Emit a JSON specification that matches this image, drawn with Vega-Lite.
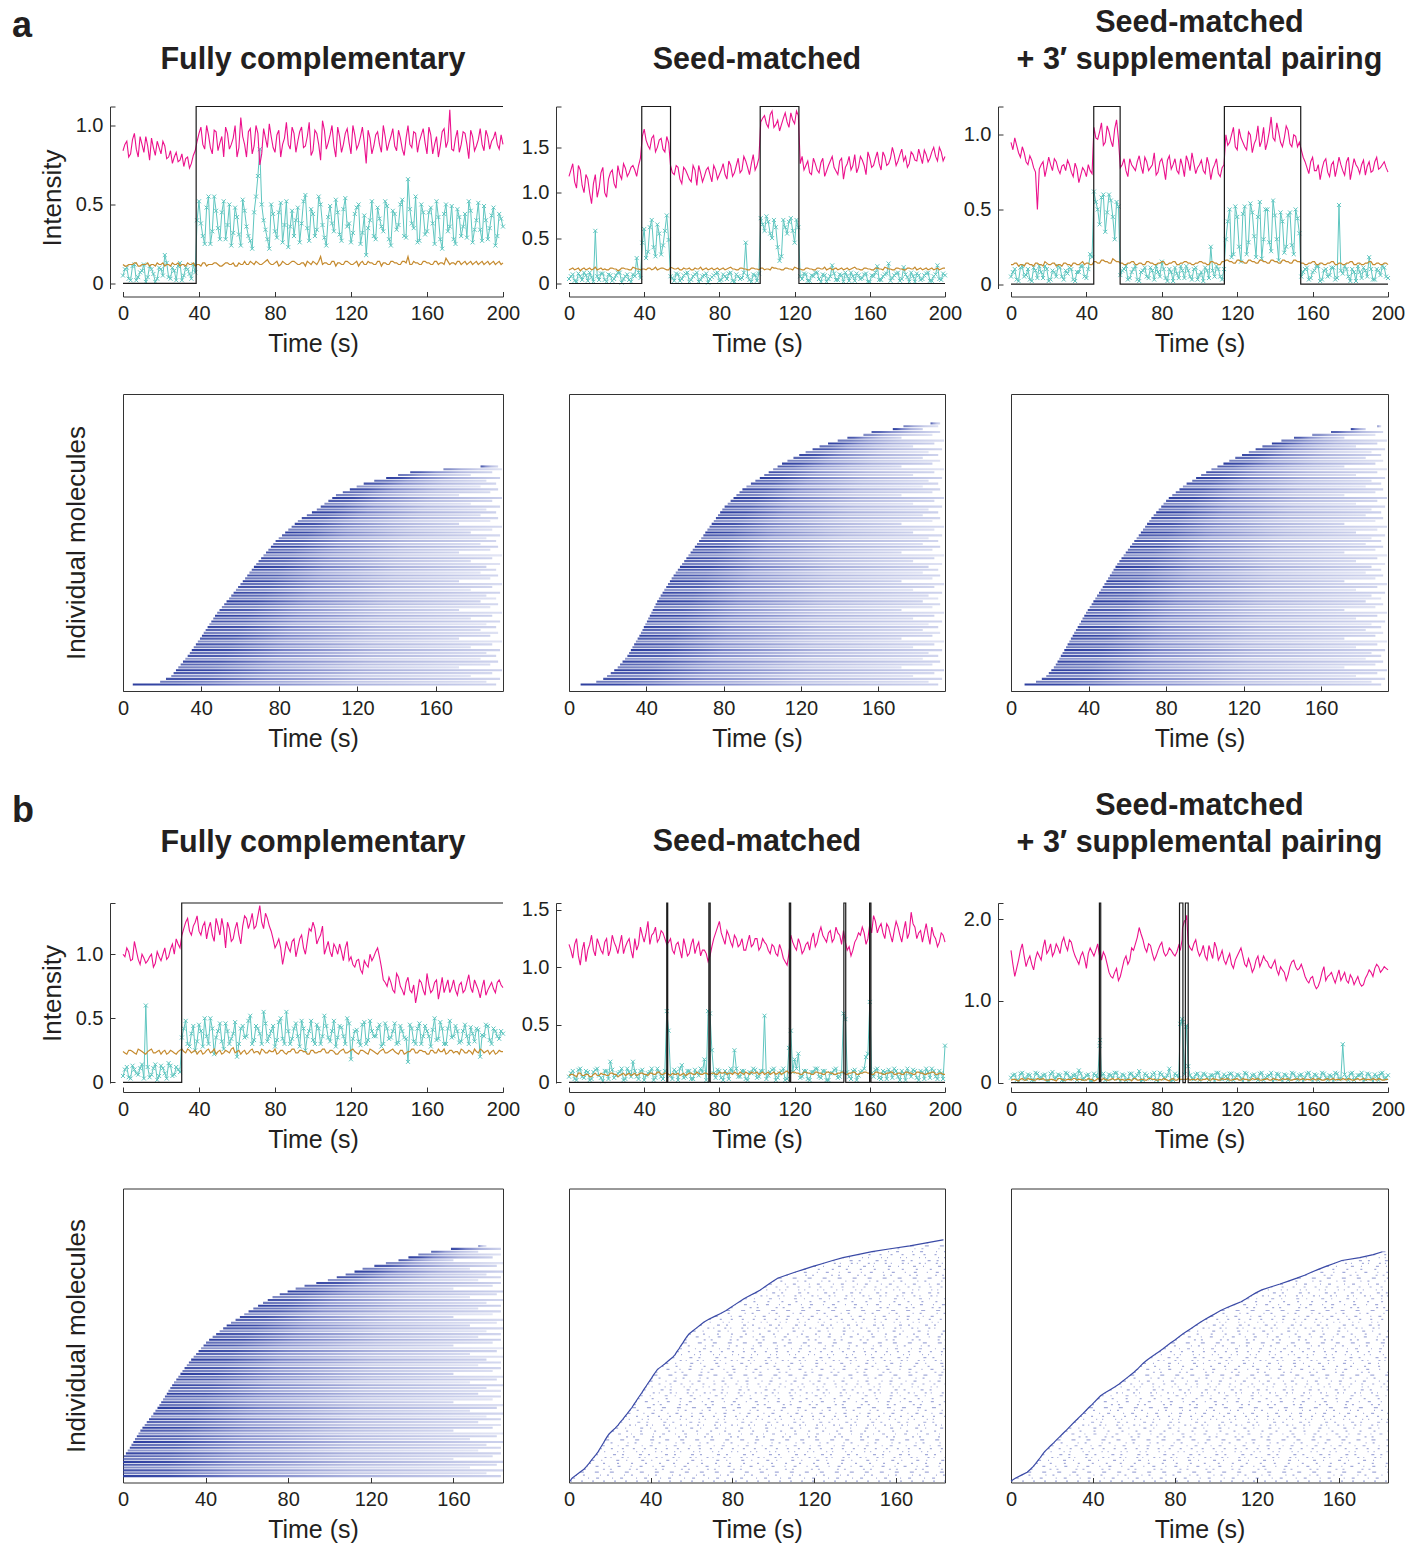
{
"$schema":"https://vega.github.io/schema/vega-lite/v6.json",
"padding":{"left":12,"top":0,"right":2,"bottom":2},
"columns":3,
"spacing":{"row":105.5,"column":66},
"bounds":"flush",
"align":"each",
"config":{
"font":"Liberation Sans",
"view":{"stroke":null},
"axis":{"grid":false,"labelFontSize":20,"titleFontSize":25,"titleFontWeight":"normal","labelColor":"#231f20","titleColor":"#231f20","domainColor":"#333","tickColor":"#333","tickSize":-5,"labelPadding":12,"labelFont":"Liberation Sans","titleFont":"Liberation Sans"},
"axisX":{"labelFlush":false,"titlePadding":8},
"axisY":{"titlePadding":10,"titleFontSize":26},
"title":{"font":"Liberation Sans","fontSize":30.5,"fontWeight":"bold","color":"#231f20","baseline":"bottom","frame":"group","anchor":"middle","lineHeight":37}
},
"datasets":{
"A1":[{"t":0,"m":0.84,"c":0.05,"o":0.12},{"t":2,"m":0.9,"c":0.1,"o":0.11},{"t":4,"m":0.82,"c":0.02,"o":0.12},{"t":6,"m":0.95,"c":0.12,"o":0.13},{"t":8,"m":0.8,"c":0.04,"o":0.11},{"t":10,"m":0.88,"c":0.08,"o":0.12},{"t":12,"m":0.93,"c":0.01,"o":0.12},{"t":14,"m":0.78,"c":0.11,"o":0.11},{"t":16,"m":0.86,"c":0.06,"o":0.12},{"t":18,"m":0.9,"c":0.03,"o":0.13},{"t":20,"m":0.82,"c":0.09,"o":0.12},{"t":22,"m":0.87,"c":0.18,"o":0.11},{"t":24,"m":0.8,"c":0.04,"o":0.12},{"t":26,"m":0.76,"c":0.1,"o":0.13},{"t":28,"m":0.83,"c":0.02,"o":0.12},{"t":30,"m":0.78,"c":0.13,"o":0.11},{"t":32,"m":0.74,"c":0.05,"o":0.12},{"t":34,"m":0.8,"c":0.09,"o":0.13},{"t":36,"m":0.76,"c":0.03,"o":0.12},{"t":38,"m":0.84,"c":0.07,"o":0.11},{"t":40,"m":0.95,"c":0.52,"o":0.12},{"t":42,"m":0.88,"c":0.3,"o":0.13},{"t":44,"m":1.0,"c":0.48,"o":0.11},{"t":46,"m":0.86,"c":0.25,"o":0.12},{"t":48,"m":0.97,"c":0.55,"o":0.13},{"t":50,"m":0.84,"c":0.35,"o":0.12},{"t":52,"m":0.93,"c":0.45,"o":0.11},{"t":54,"m":0.99,"c":0.28,"o":0.13},{"t":56,"m":0.85,"c":0.5,"o":0.12},{"t":58,"m":0.92,"c":0.32,"o":0.13},{"t":60,"m":0.8,"c":0.42,"o":0.11},{"t":62,"m":1.05,"c":0.24,"o":0.12},{"t":64,"m":0.88,"c":0.46,"o":0.14},{"t":66,"m":0.96,"c":0.3,"o":0.12},{"t":68,"m":0.82,"c":0.22,"o":0.13},{"t":70,"m":1.0,"c":0.55,"o":0.14},{"t":72,"m":0.75,"c":0.85,"o":0.12},{"t":74,"m":0.98,"c":0.4,"o":0.13},{"t":76,"m":0.86,"c":0.28,"o":0.15},{"t":78,"m":0.93,"c":0.5,"o":0.12},{"t":80,"m":0.83,"c":0.33,"o":0.13},{"t":82,"m":0.97,"c":0.45,"o":0.11},{"t":84,"m":0.88,"c":0.26,"o":0.14},{"t":86,"m":1.02,"c":0.52,"o":0.12},{"t":88,"m":0.85,"c":0.36,"o":0.13},{"t":90,"m":0.95,"c":0.3,"o":0.14},{"t":92,"m":0.9,"c":0.48,"o":0.12},{"t":94,"m":0.99,"c":0.38,"o":0.13},{"t":96,"m":0.87,"c":0.56,"o":0.11},{"t":98,"m":1.02,"c":0.27,"o":0.13},{"t":100,"m":0.84,"c":0.44,"o":0.14},{"t":102,"m":0.95,"c":0.34,"o":0.12},{"t":104,"m":0.78,"c":0.5,"o":0.17},{"t":106,"m":0.97,"c":0.29,"o":0.13},{"t":108,"m":0.89,"c":0.42,"o":0.12},{"t":110,"m":1.0,"c":0.38,"o":0.14},{"t":112,"m":0.8,"c":0.53,"o":0.11},{"t":114,"m":0.93,"c":0.31,"o":0.13},{"t":116,"m":0.88,"c":0.47,"o":0.12},{"t":118,"m":0.98,"c":0.36,"o":0.14},{"t":120,"m":0.82,"c":0.26,"o":0.12},{"t":122,"m":0.94,"c":0.44,"o":0.13},{"t":124,"m":0.88,"c":0.5,"o":0.11},{"t":126,"m":0.99,"c":0.32,"o":0.14},{"t":128,"m":0.76,"c":0.18,"o":0.12},{"t":130,"m":0.92,"c":0.4,"o":0.13},{"t":132,"m":0.87,"c":0.3,"o":0.12},{"t":134,"m":0.96,"c":0.48,"o":0.14},{"t":136,"m":0.83,"c":0.36,"o":0.11},{"t":138,"m":0.93,"c":0.52,"o":0.13},{"t":140,"m":0.89,"c":0.28,"o":0.12},{"t":142,"m":0.98,"c":0.46,"o":0.14},{"t":144,"m":0.84,"c":0.34,"o":0.13},{"t":146,"m":0.92,"c":0.5,"o":0.12},{"t":148,"m":0.81,"c":0.3,"o":0.14},{"t":150,"m":1.0,"c":0.66,"o":0.17},{"t":152,"m":0.86,"c":0.38,"o":0.12},{"t":154,"m":0.95,"c":0.55,"o":0.13},{"t":156,"m":0.9,"c":0.27,"o":0.12},{"t":158,"m":0.98,"c":0.45,"o":0.14},{"t":160,"m":0.82,"c":0.33,"o":0.13},{"t":162,"m":0.94,"c":0.48,"o":0.12},{"t":164,"m":0.88,"c":0.25,"o":0.14},{"t":166,"m":0.8,"c":0.42,"o":0.12},{"t":168,"m":0.96,"c":0.22,"o":0.13},{"t":170,"m":0.86,"c":0.5,"o":0.16},{"t":172,"m":1.1,"c":0.36,"o":0.12},{"t":174,"m":0.84,"c":0.28,"o":0.13},{"t":176,"m":0.97,"c":0.47,"o":0.14},{"t":178,"m":0.88,"c":0.3,"o":0.12},{"t":180,"m":0.95,"c":0.44,"o":0.14},{"t":182,"m":0.79,"c":0.52,"o":0.13},{"t":184,"m":0.93,"c":0.26,"o":0.12},{"t":186,"m":0.87,"c":0.4,"o":0.14},{"t":188,"m":0.98,"c":0.34,"o":0.13},{"t":190,"m":0.84,"c":0.49,"o":0.12},{"t":192,"m":0.93,"c":0.28,"o":0.14},{"t":194,"m":0.9,"c":0.43,"o":0.13},{"t":196,"m":0.96,"c":0.24,"o":0.12},{"t":198,"m":0.85,"c":0.44,"o":0.14},{"t":200,"m":0.88,"c":0.36,"o":0.13},
{"t":1,"m":0.88,"c":0.09,"o":0.11},{"t":3,"m":0.8,"c":0.03,"o":0.12},{"t":5,"m":0.91,"c":0.11,"o":0.12},{"t":7,"m":0.85,"c":0.02,"o":0.13},{"t":9,"m":0.93,"c":0.07,"o":0.11},{"t":11,"m":0.83,"c":0.12,"o":0.12},{"t":13,"m":0.87,"c":0.04,"o":0.13},{"t":15,"m":0.92,"c":0.09,"o":0.12},{"t":17,"m":0.81,"c":0.01,"o":0.11},{"t":19,"m":0.86,"c":0.1,"o":0.12},{"t":21,"m":0.9,"c":0.05,"o":0.13},{"t":23,"m":0.79,"c":0.13,"o":0.12},{"t":25,"m":0.84,"c":0.03,"o":0.11},{"t":27,"m":0.8,"c":0.08,"o":0.12},{"t":29,"m":0.77,"c":0.11,"o":0.13},{"t":31,"m":0.82,"c":0.02,"o":0.12},{"t":33,"m":0.79,"c":0.1,"o":0.11},{"t":35,"m":0.73,"c":0.06,"o":0.12},{"t":37,"m":0.81,"c":0.12,"o":0.13},{"t":39,"m":0.9,"c":0.4,"o":0.12},{"t":41,"m":0.99,"c":0.38,"o":0.11},{"t":43,"m":0.85,"c":0.25,"o":0.13},{"t":45,"m":0.94,"c":0.55,"o":0.12},{"t":47,"m":0.82,"c":0.33,"o":0.12},{"t":49,"m":0.96,"c":0.46,"o":0.13},{"t":51,"m":0.89,"c":0.28,"o":0.11},{"t":53,"m":0.8,"c":0.52,"o":0.12},{"t":55,"m":0.95,"c":0.37,"o":0.13},{"t":57,"m":0.88,"c":0.24,"o":0.12},{"t":59,"m":1.0,"c":0.48,"o":0.11},{"t":61,"m":0.86,"c":0.31,"o":0.13},{"t":63,"m":0.93,"c":0.53,"o":0.12},{"t":65,"m":0.8,"c":0.36,"o":0.12},{"t":67,"m":0.98,"c":0.27,"o":0.14},{"t":69,"m":0.87,"c":0.45,"o":0.12},{"t":71,"m":0.95,"c":0.68,"o":0.13},{"t":73,"m":0.82,"c":0.5,"o":0.12},{"t":75,"m":0.92,"c":0.34,"o":0.14},{"t":77,"m":1.01,"c":0.22,"o":0.13},{"t":79,"m":0.86,"c":0.44,"o":0.12},{"t":81,"m":0.94,"c":0.29,"o":0.14},{"t":83,"m":0.8,"c":0.51,"o":0.12},{"t":85,"m":0.92,"c":0.37,"o":0.13},{"t":87,"m":0.88,"c":0.23,"o":0.12},{"t":89,"m":0.99,"c":0.46,"o":0.14},{"t":91,"m":0.83,"c":0.4,"o":0.13},{"t":93,"m":0.96,"c":0.26,"o":0.12},{"t":95,"m":0.86,"c":0.52,"o":0.13},{"t":97,"m":0.93,"c":0.35,"o":0.14},{"t":99,"m":0.81,"c":0.47,"o":0.12},{"t":101,"m":0.97,"c":0.3,"o":0.13},{"t":103,"m":0.88,"c":0.55,"o":0.14},{"t":105,"m":1.03,"c":0.37,"o":0.12},{"t":107,"m":0.85,"c":0.24,"o":0.13},{"t":109,"m":0.94,"c":0.49,"o":0.12},{"t":111,"m":0.87,"c":0.33,"o":0.14},{"t":113,"m":0.99,"c":0.45,"o":0.13},{"t":115,"m":0.83,"c":0.27,"o":0.12},{"t":117,"m":0.95,"c":0.54,"o":0.14},{"t":119,"m":0.89,"c":0.38,"o":0.13},{"t":121,"m":1.0,"c":0.32,"o":0.12},{"t":123,"m":0.85,"c":0.48,"o":0.14},{"t":125,"m":0.93,"c":0.25,"o":0.13},{"t":127,"m":0.89,"c":0.43,"o":0.12},{"t":129,"m":0.97,"c":0.35,"o":0.14},{"t":131,"m":0.82,"c":0.52,"o":0.13},{"t":133,"m":0.94,"c":0.28,"o":0.12},{"t":135,"m":0.88,"c":0.41,"o":0.14},{"t":137,"m":1.0,"c":0.33,"o":0.13},{"t":139,"m":0.84,"c":0.49,"o":0.12},{"t":141,"m":0.93,"c":0.24,"o":0.14},{"t":143,"m":0.87,"c":0.44,"o":0.13},{"t":145,"m":0.97,"c":0.37,"o":0.12},{"t":147,"m":0.85,"c":0.53,"o":0.14},{"t":149,"m":0.92,"c":0.29,"o":0.13},{"t":151,"m":0.88,"c":0.47,"o":0.12},{"t":153,"m":0.96,"c":0.35,"o":0.14},{"t":155,"m":0.83,"c":0.26,"o":0.13},{"t":157,"m":0.94,"c":0.5,"o":0.12},{"t":159,"m":0.89,"c":0.31,"o":0.14},{"t":161,"m":0.99,"c":0.45,"o":0.13},{"t":163,"m":0.82,"c":0.38,"o":0.12},{"t":165,"m":0.93,"c":0.52,"o":0.14},{"t":167,"m":0.87,"c":0.28,"o":0.13},{"t":169,"m":0.98,"c":0.44,"o":0.12},{"t":171,"m":0.9,"c":0.33,"o":0.14},{"t":173,"m":0.85,"c":0.49,"o":0.13},{"t":175,"m":0.92,"c":0.25,"o":0.12},{"t":177,"m":0.83,"c":0.42,"o":0.14},{"t":179,"m":0.96,"c":0.36,"o":0.13},{"t":181,"m":0.88,"c":0.29,"o":0.12},{"t":183,"m":0.97,"c":0.46,"o":0.14},{"t":185,"m":0.84,"c":0.34,"o":0.13},{"t":187,"m":0.91,"c":0.51,"o":0.12},{"t":189,"m":0.88,"c":0.27,"o":0.14},{"t":191,"m":0.97,"c":0.4,"o":0.13},{"t":193,"m":0.85,"c":0.35,"o":0.12},{"t":195,"m":0.92,"c":0.48,"o":0.14},{"t":197,"m":0.88,"c":0.3,"o":0.13},{"t":199,"m":0.94,"c":0.41,"o":0.12}],
"A2":[{"t":0,"m":1.18,"c":0.05,"o":0.15},{"t":2,"m":1.32,"c":0.1,"o":0.17},{"t":4,"m":1.05,"c":0.02,"o":0.16},{"t":6,"m":1.25,"c":0.08,"o":0.14},{"t":8,"m":1.0,"c":0.12,"o":0.17},{"t":10,"m":1.15,"c":0.03,"o":0.16},{"t":12,"m":0.88,"c":0.07,"o":0.15},{"t":14,"m":1.2,"c":0.58,"o":0.18},{"t":16,"m":1.05,"c":0.04,"o":0.16},{"t":18,"m":1.28,"c":0.11,"o":0.15},{"t":20,"m":0.95,"c":0.02,"o":0.15},{"t":22,"m":1.22,"c":0.09,"o":0.17},{"t":24,"m":1.1,"c":0.05,"o":0.16},{"t":26,"m":1.3,"c":0.12,"o":0.14},{"t":28,"m":1.15,"c":0.01,"o":0.17},{"t":30,"m":1.27,"c":0.08,"o":0.16},{"t":32,"m":1.22,"c":0.04,"o":0.15},{"t":34,"m":1.3,"c":0.1,"o":0.18},{"t":36,"m":1.18,"c":0.28,"o":0.16},{"t":38,"m":1.38,"c":0.06,"o":0.15},{"t":40,"m":1.7,"c":0.6,"o":0.16},{"t":42,"m":1.52,"c":0.35,"o":0.17},{"t":44,"m":1.6,"c":0.7,"o":0.15},{"t":46,"m":1.45,"c":0.3,"o":0.18},{"t":48,"m":1.58,"c":0.55,"o":0.16},{"t":50,"m":1.48,"c":0.42,"o":0.17},{"t":52,"m":1.62,"c":0.75,"o":0.15},{"t":54,"m":1.3,"c":0.08,"o":0.18},{"t":56,"m":1.2,"c":0.03,"o":0.16},{"t":58,"m":1.28,"c":0.1,"o":0.17},{"t":60,"m":1.1,"c":0.05,"o":0.15},{"t":62,"m":1.25,"c":0.11,"o":0.16},{"t":64,"m":1.15,"c":0.02,"o":0.17},{"t":66,"m":1.3,"c":0.08,"o":0.15},{"t":68,"m":1.08,"c":0.12,"o":0.16},{"t":70,"m":1.22,"c":0.04,"o":0.18},{"t":72,"m":1.18,"c":0.09,"o":0.16},{"t":74,"m":1.28,"c":0.01,"o":0.15},{"t":76,"m":1.12,"c":0.07,"o":0.17},{"t":78,"m":1.25,"c":0.11,"o":0.16},{"t":80,"m":1.2,"c":0.03,"o":0.15},{"t":82,"m":1.32,"c":0.1,"o":0.17},{"t":84,"m":1.15,"c":0.05,"o":0.16},{"t":86,"m":1.3,"c":0.12,"o":0.18},{"t":88,"m":1.22,"c":0.02,"o":0.16},{"t":90,"m":1.38,"c":0.08,"o":0.15},{"t":92,"m":1.25,"c":0.06,"o":0.17},{"t":94,"m":1.35,"c":0.45,"o":0.16},{"t":96,"m":1.2,"c":0.04,"o":0.15},{"t":98,"m":1.42,"c":0.1,"o":0.17},{"t":100,"m":1.3,"c":0.03,"o":0.16},{"t":102,"m":1.78,"c":0.72,"o":0.17},{"t":104,"m":1.85,"c":0.58,"o":0.15},{"t":106,"m":1.72,"c":0.68,"o":0.16},{"t":108,"m":1.9,"c":0.5,"o":0.18},{"t":110,"m":1.75,"c":0.62,"o":0.17},{"t":112,"m":1.68,"c":0.25,"o":0.16},{"t":114,"m":1.82,"c":0.7,"o":0.15},{"t":116,"m":1.78,"c":0.55,"o":0.17},{"t":118,"m":1.88,"c":0.72,"o":0.16},{"t":120,"m":1.76,"c":0.45,"o":0.18},{"t":122,"m":1.85,"c":0.62,"o":0.16},{"t":124,"m":1.4,"c":0.05,"o":0.15},{"t":126,"m":1.3,"c":0.1,"o":0.17},{"t":128,"m":1.22,"c":0.03,"o":0.16},{"t":130,"m":1.38,"c":0.08,"o":0.15},{"t":132,"m":1.25,"c":0.12,"o":0.17},{"t":134,"m":1.33,"c":0.02,"o":0.16},{"t":136,"m":1.18,"c":0.09,"o":0.18},{"t":138,"m":1.3,"c":0.05,"o":0.16},{"t":140,"m":1.4,"c":0.2,"o":0.15},{"t":142,"m":1.24,"c":0.04,"o":0.17},{"t":144,"m":1.35,"c":0.1,"o":0.16},{"t":146,"m":1.15,"c":0.02,"o":0.15},{"t":148,"m":1.32,"c":0.08,"o":0.17},{"t":150,"m":1.25,"c":0.12,"o":0.16},{"t":152,"m":1.42,"c":0.03,"o":0.18},{"t":154,"m":1.28,"c":0.09,"o":0.16},{"t":156,"m":1.36,"c":0.06,"o":0.15},{"t":158,"m":1.2,"c":0.11,"o":0.17},{"t":160,"m":1.38,"c":0.02,"o":0.16},{"t":162,"m":1.3,"c":0.08,"o":0.15},{"t":164,"m":1.45,"c":0.19,"o":0.17},{"t":166,"m":1.25,"c":0.04,"o":0.16},{"t":168,"m":1.4,"c":0.1,"o":0.18},{"t":170,"m":1.32,"c":0.22,"o":0.16},{"t":172,"m":1.5,"c":0.06,"o":0.15},{"t":174,"m":1.3,"c":0.11,"o":0.17},{"t":176,"m":1.42,"c":0.03,"o":0.16},{"t":178,"m":1.35,"c":0.18,"o":0.15},{"t":180,"m":1.28,"c":0.07,"o":0.17},{"t":182,"m":1.45,"c":0.12,"o":0.16},{"t":184,"m":1.36,"c":0.02,"o":0.18},{"t":186,"m":1.48,"c":0.09,"o":0.16},{"t":188,"m":1.32,"c":0.05,"o":0.15},{"t":190,"m":1.42,"c":0.11,"o":0.17},{"t":192,"m":1.38,"c":0.03,"o":0.16},{"t":194,"m":1.5,"c":0.08,"o":0.15},{"t":196,"m":1.35,"c":0.2,"o":0.17},{"t":198,"m":1.45,"c":0.04,"o":0.16},{"t":200,"m":1.4,"c":0.09,"o":0.17},
{"t":1,"m":1.25,"c":0.08,"o":0.16},{"t":3,"m":1.12,"c":0.03,"o":0.15},{"t":5,"m":1.3,"c":0.11,"o":0.17},{"t":7,"m":1.08,"c":0.04,"o":0.16},{"t":9,"m":1.2,"c":0.09,"o":0.15},{"t":11,"m":1.0,"c":0.12,"o":0.17},{"t":13,"m":1.1,"c":0.02,"o":0.16},{"t":15,"m":0.95,"c":0.08,"o":0.15},{"t":17,"m":1.22,"c":0.11,"o":0.17},{"t":19,"m":1.0,"c":0.04,"o":0.16},{"t":21,"m":1.15,"c":0.1,"o":0.15},{"t":23,"m":1.25,"c":0.03,"o":0.17},{"t":25,"m":1.05,"c":0.09,"o":0.16},{"t":27,"m":1.2,"c":0.12,"o":0.15},{"t":29,"m":1.32,"c":0.05,"o":0.17},{"t":31,"m":1.18,"c":0.1,"o":0.16},{"t":33,"m":1.28,"c":0.02,"o":0.15},{"t":35,"m":1.25,"c":0.08,"o":0.17},{"t":37,"m":1.3,"c":0.12,"o":0.16},{"t":39,"m":1.62,"c":0.45,"o":0.16},{"t":41,"m":1.58,"c":0.28,"o":0.15},{"t":43,"m":1.48,"c":0.62,"o":0.17},{"t":45,"m":1.63,"c":0.4,"o":0.16},{"t":47,"m":1.5,"c":0.65,"o":0.15},{"t":49,"m":1.6,"c":0.32,"o":0.17},{"t":51,"m":1.45,"c":0.58,"o":0.16},{"t":53,"m":1.55,"c":0.48,"o":0.15},{"t":55,"m":1.22,"c":0.06,"o":0.17},{"t":57,"m":1.3,"c":0.11,"o":0.16},{"t":59,"m":1.15,"c":0.03,"o":0.15},{"t":61,"m":1.28,"c":0.09,"o":0.17},{"t":63,"m":1.2,"c":0.12,"o":0.16},{"t":65,"m":1.12,"c":0.04,"o":0.15},{"t":67,"m":1.25,"c":0.1,"o":0.17},{"t":69,"m":1.3,"c":0.02,"o":0.16},{"t":71,"m":1.12,"c":0.08,"o":0.15},{"t":73,"m":1.25,"c":0.11,"o":0.17},{"t":75,"m":1.2,"c":0.05,"o":0.16},{"t":77,"m":1.3,"c":0.09,"o":0.15},{"t":79,"m":1.15,"c":0.12,"o":0.17},{"t":81,"m":1.25,"c":0.04,"o":0.16},{"t":83,"m":1.2,"c":0.08,"o":0.15},{"t":85,"m":1.35,"c":0.11,"o":0.17},{"t":87,"m":1.18,"c":0.03,"o":0.16},{"t":89,"m":1.3,"c":0.1,"o":0.15},{"t":91,"m":1.22,"c":0.05,"o":0.17},{"t":93,"m":1.4,"c":0.12,"o":0.16},{"t":95,"m":1.28,"c":0.08,"o":0.15},{"t":97,"m":1.32,"c":0.02,"o":0.17},{"t":99,"m":1.25,"c":0.09,"o":0.16},{"t":101,"m":1.38,"c":0.11,"o":0.15},{"t":103,"m":1.82,"c":0.65,"o":0.17},{"t":105,"m":1.76,"c":0.74,"o":0.16},{"t":107,"m":1.86,"c":0.55,"o":0.15},{"t":109,"m":1.72,"c":0.7,"o":0.17},{"t":111,"m":1.8,"c":0.4,"o":0.16},{"t":113,"m":1.75,"c":0.3,"o":0.15},{"t":115,"m":1.88,"c":0.62,"o":0.17},{"t":117,"m":1.72,"c":0.68,"o":0.16},{"t":119,"m":1.8,"c":0.58,"o":0.15},{"t":121,"m":1.9,"c":0.7,"o":0.17},{"t":123,"m":1.32,"c":0.08,"o":0.16},{"t":125,"m":1.25,"c":0.11,"o":0.15},{"t":127,"m":1.35,"c":0.03,"o":0.17},{"t":129,"m":1.2,"c":0.09,"o":0.16},{"t":131,"m":1.32,"c":0.12,"o":0.15},{"t":133,"m":1.22,"c":0.05,"o":0.17},{"t":135,"m":1.38,"c":0.1,"o":0.16},{"t":137,"m":1.24,"c":0.02,"o":0.15},{"t":139,"m":1.35,"c":0.08,"o":0.17},{"t":141,"m":1.28,"c":0.11,"o":0.16},{"t":143,"m":1.2,"c":0.04,"o":0.15},{"t":145,"m":1.38,"c":0.09,"o":0.17},{"t":147,"m":1.28,"c":0.12,"o":0.16},{"t":149,"m":1.4,"c":0.03,"o":0.15},{"t":151,"m":1.3,"c":0.08,"o":0.17},{"t":153,"m":1.22,"c":0.11,"o":0.16},{"t":155,"m":1.4,"c":0.05,"o":0.15},{"t":157,"m":1.3,"c":0.1,"o":0.17},{"t":159,"m":1.45,"c":0.02,"o":0.16},{"t":161,"m":1.28,"c":0.09,"o":0.15},{"t":163,"m":1.38,"c":0.12,"o":0.17},{"t":165,"m":1.32,"c":0.04,"o":0.16},{"t":167,"m":1.45,"c":0.08,"o":0.15},{"t":169,"m":1.3,"c":0.11,"o":0.17},{"t":171,"m":1.38,"c":0.03,"o":0.16},{"t":173,"m":1.42,"c":0.09,"o":0.15},{"t":175,"m":1.35,"c":0.12,"o":0.17},{"t":177,"m":1.48,"c":0.05,"o":0.16},{"t":179,"m":1.4,"c":0.1,"o":0.15},{"t":181,"m":1.32,"c":0.02,"o":0.17},{"t":183,"m":1.42,"c":0.08,"o":0.16},{"t":185,"m":1.35,"c":0.11,"o":0.15},{"t":187,"m":1.4,"c":0.04,"o":0.17},{"t":189,"m":1.47,"c":0.09,"o":0.16},{"t":191,"m":1.34,"c":0.12,"o":0.15},{"t":193,"m":1.45,"c":0.03,"o":0.17},{"t":195,"m":1.4,"c":0.1,"o":0.16},{"t":197,"m":1.5,"c":0.05,"o":0.15},{"t":199,"m":1.35,"c":0.11,"o":0.17}],
"A3":[{"t":0,"m":0.95,"c":0.05,"o":0.13},{"t":2,"m":0.98,"c":0.1,"o":0.14},{"t":4,"m":0.88,"c":0.02,"o":0.12},{"t":6,"m":0.92,"c":0.12,"o":0.13},{"t":8,"m":0.82,"c":0.06,"o":0.14},{"t":10,"m":0.86,"c":0.03,"o":0.13},{"t":12,"m":0.78,"c":0.11,"o":0.12},{"t":14,"m":0.5,"c":0.04,"o":0.14},{"t":16,"m":0.8,"c":0.08,"o":0.13},{"t":18,"m":0.72,"c":0.12,"o":0.15},{"t":20,"m":0.85,"c":0.02,"o":0.13},{"t":22,"m":0.76,"c":0.09,"o":0.14},{"t":24,"m":0.82,"c":0.05,"o":0.12},{"t":26,"m":0.74,"c":0.11,"o":0.13},{"t":28,"m":0.8,"c":0.03,"o":0.14},{"t":30,"m":0.83,"c":0.07,"o":0.13},{"t":32,"m":0.75,"c":0.1,"o":0.12},{"t":34,"m":0.81,"c":0.02,"o":0.14},{"t":36,"m":0.68,"c":0.08,"o":0.13},{"t":38,"m":0.78,"c":0.12,"o":0.15},{"t":40,"m":0.72,"c":0.04,"o":0.14},{"t":42,"m":0.76,"c":0.2,"o":0.13},{"t":44,"m":1.05,"c":0.62,"o":0.15},{"t":46,"m":0.97,"c":0.5,"o":0.14},{"t":48,"m":1.08,"c":0.58,"o":0.16},{"t":50,"m":0.95,"c":0.35,"o":0.15},{"t":52,"m":1.02,"c":0.6,"o":0.14},{"t":54,"m":0.92,"c":0.45,"o":0.17},{"t":56,"m":1.1,"c":0.55,"o":0.15},{"t":58,"m":0.78,"c":0.06,"o":0.14},{"t":60,"m":0.84,"c":0.1,"o":0.13},{"t":62,"m":0.72,"c":0.03,"o":0.14},{"t":64,"m":0.8,"c":0.08,"o":0.15},{"t":66,"m":0.76,"c":0.12,"o":0.13},{"t":68,"m":0.86,"c":0.02,"o":0.14},{"t":70,"m":0.74,"c":0.09,"o":0.13},{"t":72,"m":0.82,"c":0.05,"o":0.15},{"t":74,"m":0.78,"c":0.11,"o":0.14},{"t":76,"m":0.88,"c":0.03,"o":0.13},{"t":78,"m":0.75,"c":0.08,"o":0.14},{"t":80,"m":0.84,"c":0.15,"o":0.15},{"t":82,"m":0.7,"c":0.04,"o":0.13},{"t":84,"m":0.86,"c":0.1,"o":0.14},{"t":86,"m":0.8,"c":0.02,"o":0.15},{"t":88,"m":0.76,"c":0.07,"o":0.13},{"t":90,"m":0.84,"c":0.12,"o":0.14},{"t":92,"m":0.72,"c":0.04,"o":0.15},{"t":94,"m":0.82,"c":0.09,"o":0.14},{"t":96,"m":0.88,"c":0.03,"o":0.13},{"t":98,"m":0.74,"c":0.11,"o":0.14},{"t":100,"m":0.8,"c":0.06,"o":0.15},{"t":102,"m":0.76,"c":0.02,"o":0.14},{"t":104,"m":0.85,"c":0.09,"o":0.13},{"t":106,"m":0.7,"c":0.25,"o":0.15},{"t":108,"m":0.8,"c":0.05,"o":0.14},{"t":110,"m":0.74,"c":0.1,"o":0.13},{"t":112,"m":0.78,"c":0.03,"o":0.15},{"t":114,"m":1.0,"c":0.3,"o":0.16},{"t":116,"m":0.95,"c":0.5,"o":0.15},{"t":118,"m":1.05,"c":0.2,"o":0.14},{"t":120,"m":0.9,"c":0.45,"o":0.16},{"t":122,"m":0.98,"c":0.15,"o":0.15},{"t":124,"m":0.92,"c":0.52,"o":0.14},{"t":126,"m":1.02,"c":0.28,"o":0.16},{"t":128,"m":0.88,"c":0.48,"o":0.15},{"t":130,"m":0.97,"c":0.18,"o":0.14},{"t":132,"m":0.92,"c":0.55,"o":0.16},{"t":134,"m":1.05,"c":0.3,"o":0.15},{"t":136,"m":0.95,"c":0.5,"o":0.14},{"t":138,"m":1.12,"c":0.22,"o":0.16},{"t":140,"m":0.96,"c":0.46,"o":0.15},{"t":142,"m":1.02,"c":0.16,"o":0.14},{"t":144,"m":0.92,"c":0.42,"o":0.16},{"t":146,"m":1.06,"c":0.25,"o":0.15},{"t":148,"m":0.94,"c":0.48,"o":0.14},{"t":150,"m":1.0,"c":0.2,"o":0.16},{"t":152,"m":0.92,"c":0.44,"o":0.15},{"t":154,"m":0.9,"c":0.05,"o":0.14},{"t":156,"m":0.82,"c":0.1,"o":0.13},{"t":158,"m":0.74,"c":0.03,"o":0.14},{"t":160,"m":0.85,"c":0.08,"o":0.15},{"t":162,"m":0.76,"c":0.12,"o":0.13},{"t":164,"m":0.7,"c":0.02,"o":0.14},{"t":166,"m":0.82,"c":0.09,"o":0.13},{"t":168,"m":0.75,"c":0.05,"o":0.14},{"t":170,"m":0.8,"c":0.11,"o":0.15},{"t":172,"m":0.72,"c":0.03,"o":0.13},{"t":174,"m":0.85,"c":0.53,"o":0.14},{"t":176,"m":0.76,"c":0.07,"o":0.13},{"t":178,"m":0.82,"c":0.1,"o":0.14},{"t":180,"m":0.7,"c":0.02,"o":0.15},{"t":182,"m":0.84,"c":0.08,"o":0.13},{"t":184,"m":0.78,"c":0.12,"o":0.14},{"t":186,"m":0.8,"c":0.04,"o":0.13},{"t":188,"m":0.73,"c":0.09,"o":0.14},{"t":190,"m":0.82,"c":0.18,"o":0.15},{"t":192,"m":0.76,"c":0.03,"o":0.13},{"t":194,"m":0.85,"c":0.1,"o":0.14},{"t":196,"m":0.78,"c":0.06,"o":0.13},{"t":198,"m":0.82,"c":0.11,"o":0.14},{"t":200,"m":0.75,"c":0.04,"o":0.13},
{"t":1,"m":0.9,"c":0.08,"o":0.13},{"t":3,"m":0.93,"c":0.03,"o":0.14},{"t":5,"m":0.85,"c":0.11,"o":0.13},{"t":7,"m":0.88,"c":0.05,"o":0.12},{"t":9,"m":0.8,"c":0.1,"o":0.14},{"t":11,"m":0.83,"c":0.02,"o":0.13},{"t":13,"m":0.75,"c":0.09,"o":0.14},{"t":15,"m":0.77,"c":0.12,"o":0.13},{"t":17,"m":0.82,"c":0.04,"o":0.12},{"t":19,"m":0.78,"c":0.1,"o":0.14},{"t":21,"m":0.8,"c":0.03,"o":0.13},{"t":23,"m":0.84,"c":0.08,"o":0.14},{"t":25,"m":0.77,"c":0.12,"o":0.13},{"t":27,"m":0.79,"c":0.05,"o":0.12},{"t":29,"m":0.76,"c":0.09,"o":0.14},{"t":31,"m":0.8,"c":0.11,"o":0.13},{"t":33,"m":0.72,"c":0.03,"o":0.14},{"t":35,"m":0.77,"c":0.08,"o":0.13},{"t":37,"m":0.73,"c":0.12,"o":0.14},{"t":39,"m":0.76,"c":0.05,"o":0.13},{"t":41,"m":0.8,"c":0.1,"o":0.14},{"t":43,"m":0.74,"c":0.18,"o":0.13},{"t":45,"m":0.98,"c":0.55,"o":0.15},{"t":47,"m":1.02,"c":0.4,"o":0.14},{"t":49,"m":0.93,"c":0.6,"o":0.16},{"t":51,"m":1.06,"c":0.48,"o":0.15},{"t":53,"m":0.96,"c":0.56,"o":0.14},{"t":55,"m":1.04,"c":0.3,"o":0.16},{"t":57,"m":0.97,"c":0.52,"o":0.15},{"t":59,"m":0.8,"c":0.09,"o":0.14},{"t":61,"m":0.76,"c":0.12,"o":0.13},{"t":63,"m":0.84,"c":0.04,"o":0.14},{"t":65,"m":0.78,"c":0.1,"o":0.15},{"t":67,"m":0.82,"c":0.03,"o":0.13},{"t":69,"m":0.79,"c":0.08,"o":0.14},{"t":71,"m":0.85,"c":0.11,"o":0.13},{"t":73,"m":0.76,"c":0.04,"o":0.15},{"t":75,"m":0.8,"c":0.09,"o":0.14},{"t":77,"m":0.73,"c":0.12,"o":0.13},{"t":79,"m":0.82,"c":0.05,"o":0.14},{"t":81,"m":0.78,"c":0.1,"o":0.15},{"t":83,"m":0.83,"c":0.02,"o":0.13},{"t":85,"m":0.77,"c":0.08,"o":0.14},{"t":87,"m":0.84,"c":0.11,"o":0.15},{"t":89,"m":0.74,"c":0.04,"o":0.13},{"t":91,"m":0.79,"c":0.09,"o":0.14},{"t":93,"m":0.86,"c":0.12,"o":0.15},{"t":95,"m":0.76,"c":0.05,"o":0.14},{"t":97,"m":0.81,"c":0.1,"o":0.13},{"t":99,"m":0.78,"c":0.03,"o":0.14},{"t":101,"m":0.83,"c":0.08,"o":0.15},{"t":103,"m":0.74,"c":0.11,"o":0.14},{"t":105,"m":0.8,"c":0.04,"o":0.13},{"t":107,"m":0.77,"c":0.09,"o":0.15},{"t":109,"m":0.84,"c":0.12,"o":0.14},{"t":111,"m":0.72,"c":0.05,"o":0.13},{"t":113,"m":0.8,"c":0.1,"o":0.15},{"t":115,"m":0.93,"c":0.42,"o":0.16},{"t":117,"m":1.0,"c":0.18,"o":0.15},{"t":119,"m":0.92,"c":0.52,"o":0.14},{"t":121,"m":1.04,"c":0.25,"o":0.16},{"t":123,"m":0.95,"c":0.47,"o":0.15},{"t":125,"m":0.9,"c":0.2,"o":0.14},{"t":127,"m":1.0,"c":0.54,"o":0.16},{"t":129,"m":0.94,"c":0.32,"o":0.15},{"t":131,"m":1.06,"c":0.45,"o":0.14},{"t":133,"m":0.96,"c":0.17,"o":0.16},{"t":135,"m":0.9,"c":0.5,"o":0.15},{"t":137,"m":1.02,"c":0.28,"o":0.14},{"t":139,"m":0.98,"c":0.56,"o":0.16},{"t":141,"m":1.08,"c":0.3,"o":0.15},{"t":143,"m":0.95,"c":0.48,"o":0.14},{"t":145,"m":0.98,"c":0.21,"o":0.16},{"t":147,"m":1.03,"c":0.46,"o":0.15},{"t":149,"m":0.92,"c":0.26,"o":0.14},{"t":151,"m":0.99,"c":0.5,"o":0.16},{"t":153,"m":0.95,"c":0.34,"o":0.15},{"t":155,"m":0.85,"c":0.08,"o":0.14},{"t":157,"m":0.78,"c":0.11,"o":0.13},{"t":159,"m":0.82,"c":0.04,"o":0.14},{"t":161,"m":0.76,"c":0.09,"o":0.15},{"t":163,"m":0.8,"c":0.12,"o":0.13},{"t":165,"m":0.77,"c":0.03,"o":0.14},{"t":167,"m":0.84,"c":0.1,"o":0.13},{"t":169,"m":0.72,"c":0.06,"o":0.14},{"t":171,"m":0.82,"c":0.11,"o":0.15},{"t":173,"m":0.78,"c":0.04,"o":0.13},{"t":175,"m":0.8,"c":0.09,"o":0.14},{"t":177,"m":0.73,"c":0.12,"o":0.13},{"t":179,"m":0.85,"c":0.05,"o":0.14},{"t":181,"m":0.77,"c":0.1,"o":0.15},{"t":183,"m":0.8,"c":0.02,"o":0.13},{"t":185,"m":0.74,"c":0.08,"o":0.14},{"t":187,"m":0.83,"c":0.11,"o":0.13},{"t":189,"m":0.79,"c":0.05,"o":0.14},{"t":191,"m":0.75,"c":0.1,"o":0.15},{"t":193,"m":0.82,"c":0.03,"o":0.13},{"t":195,"m":0.77,"c":0.09,"o":0.14},{"t":197,"m":0.8,"c":0.12,"o":0.13},{"t":199,"m":0.78,"c":0.05,"o":0.14}],
"B1":[{"t":0,"m":1.0,"c":0.05,"o":0.24},{"t":2,"m":1.05,"c":0.12,"o":0.22},{"t":4,"m":0.95,"c":0.03,"o":0.25},{"t":6,"m":1.1,"c":0.1,"o":0.23},{"t":8,"m":0.96,"c":0.06,"o":0.26},{"t":10,"m":1.0,"c":0.14,"o":0.24},{"t":12,"m":0.93,"c":0.6,"o":0.22},{"t":14,"m":0.98,"c":0.04,"o":0.25},{"t":16,"m":0.9,"c":0.11,"o":0.23},{"t":18,"m":1.02,"c":0.02,"o":0.24},{"t":20,"m":0.95,"c":0.13,"o":0.22},{"t":22,"m":1.05,"c":0.07,"o":0.25},{"t":24,"m":0.98,"c":0.15,"o":0.23},{"t":26,"m":1.08,"c":0.05,"o":0.24},{"t":28,"m":1.12,"c":0.12,"o":0.22},{"t":30,"m":1.05,"c":0.08,"o":0.25},{"t":32,"m":1.2,"c":0.42,"o":0.24},{"t":34,"m":1.28,"c":0.3,"o":0.26},{"t":36,"m":1.15,"c":0.38,"o":0.23},{"t":38,"m":1.25,"c":0.25,"o":0.25},{"t":40,"m":1.18,"c":0.45,"o":0.24},{"t":42,"m":1.22,"c":0.28,"o":0.22},{"t":44,"m":1.12,"c":0.36,"o":0.25},{"t":46,"m":1.25,"c":0.5,"o":0.23},{"t":48,"m":1.1,"c":0.22,"o":0.26},{"t":50,"m":1.22,"c":0.4,"o":0.24},{"t":52,"m":1.28,"c":0.32,"o":0.22},{"t":54,"m":1.05,"c":0.46,"o":0.25},{"t":56,"m":1.2,"c":0.3,"o":0.23},{"t":58,"m":1.12,"c":0.38,"o":0.27},{"t":60,"m":1.25,"c":0.2,"o":0.24},{"t":62,"m":1.08,"c":0.42,"o":0.22},{"t":64,"m":1.3,"c":0.35,"o":0.25},{"t":66,"m":1.2,"c":0.48,"o":0.23},{"t":68,"m":1.32,"c":0.3,"o":0.26},{"t":70,"m":1.22,"c":0.44,"o":0.24},{"t":72,"m":1.38,"c":0.38,"o":0.22},{"t":74,"m":1.2,"c":0.55,"o":0.25},{"t":76,"m":1.28,"c":0.32,"o":0.23},{"t":78,"m":1.18,"c":0.4,"o":0.24},{"t":80,"m":1.05,"c":0.28,"o":0.26},{"t":82,"m":1.12,"c":0.47,"o":0.23},{"t":84,"m":0.92,"c":0.34,"o":0.25},{"t":86,"m":1.1,"c":0.55,"o":0.22},{"t":88,"m":1.02,"c":0.3,"o":0.24},{"t":90,"m":1.12,"c":0.42,"o":0.26},{"t":92,"m":1.05,"c":0.36,"o":0.23},{"t":94,"m":1.15,"c":0.48,"o":0.25},{"t":96,"m":1.0,"c":0.25,"o":0.24},{"t":98,"m":1.2,"c":0.4,"o":0.22},{"t":100,"m":1.25,"c":0.33,"o":0.25},{"t":102,"m":1.08,"c":0.45,"o":0.23},{"t":104,"m":1.15,"c":0.3,"o":0.24},{"t":106,"m":1.0,"c":0.52,"o":0.26},{"t":108,"m":1.1,"c":0.35,"o":0.23},{"t":110,"m":0.98,"c":0.4,"o":0.25},{"t":112,"m":1.05,"c":0.28,"o":0.22},{"t":114,"m":1.08,"c":0.44,"o":0.24},{"t":116,"m":0.95,"c":0.36,"o":0.26},{"t":118,"m":1.1,"c":0.5,"o":0.23},{"t":120,"m":0.98,"c":0.18,"o":0.25},{"t":122,"m":0.9,"c":0.4,"o":0.24},{"t":124,"m":0.96,"c":0.32,"o":0.22},{"t":126,"m":0.85,"c":0.45,"o":0.25},{"t":128,"m":0.92,"c":0.3,"o":0.23},{"t":130,"m":1.0,"c":0.48,"o":0.26},{"t":132,"m":0.98,"c":0.36,"o":0.24},{"t":134,"m":1.05,"c":0.42,"o":0.22},{"t":136,"m":0.9,"c":0.28,"o":0.25},{"t":138,"m":0.78,"c":0.46,"o":0.23},{"t":140,"m":0.82,"c":0.34,"o":0.24},{"t":142,"m":0.72,"c":0.4,"o":0.26},{"t":144,"m":0.85,"c":0.3,"o":0.23},{"t":146,"m":0.75,"c":0.44,"o":0.25},{"t":148,"m":0.68,"c":0.35,"o":0.22},{"t":150,"m":0.82,"c":0.16,"o":0.24},{"t":152,"m":0.7,"c":0.42,"o":0.26},{"t":154,"m":0.62,"c":0.3,"o":0.23},{"t":156,"m":0.8,"c":0.46,"o":0.25},{"t":158,"m":0.72,"c":0.36,"o":0.24},{"t":160,"m":0.85,"c":0.4,"o":0.22},{"t":162,"m":0.7,"c":0.28,"o":0.25},{"t":164,"m":0.78,"c":0.5,"o":0.23},{"t":166,"m":0.65,"c":0.34,"o":0.26},{"t":168,"m":0.82,"c":0.42,"o":0.24},{"t":170,"m":0.75,"c":0.3,"o":0.22},{"t":172,"m":0.7,"c":0.48,"o":0.25},{"t":174,"m":0.8,"c":0.36,"o":0.23},{"t":176,"m":0.68,"c":0.4,"o":0.24},{"t":178,"m":0.78,"c":0.32,"o":0.26},{"t":180,"m":0.72,"c":0.45,"o":0.23},{"t":182,"m":0.84,"c":0.3,"o":0.25},{"t":184,"m":0.7,"c":0.38,"o":0.22},{"t":186,"m":0.76,"c":0.42,"o":0.24},{"t":188,"m":0.66,"c":0.2,"o":0.26},{"t":190,"m":0.8,"c":0.36,"o":0.23},{"t":192,"m":0.72,"c":0.44,"o":0.25},{"t":194,"m":0.78,"c":0.3,"o":0.24},{"t":196,"m":0.7,"c":0.4,"o":0.22},{"t":198,"m":0.8,"c":0.34,"o":0.25},{"t":200,"m":0.74,"c":0.38,"o":0.24},
{"t":1,"m":0.98,"c":0.1,"o":0.23},{"t":3,"m":1.02,"c":0.04,"o":0.25},{"t":5,"m":0.96,"c":0.13,"o":0.24},{"t":7,"m":1.03,"c":0.07,"o":0.22},{"t":9,"m":0.92,"c":0.11,"o":0.25},{"t":11,"m":0.97,"c":0.03,"o":0.23},{"t":13,"m":0.95,"c":0.12,"o":0.24},{"t":15,"m":1.0,"c":0.06,"o":0.26},{"t":17,"m":0.93,"c":0.14,"o":0.23},{"t":19,"m":0.98,"c":0.05,"o":0.25},{"t":21,"m":1.0,"c":0.11,"o":0.24},{"t":23,"m":0.96,"c":0.03,"o":0.22},{"t":25,"m":1.04,"c":0.13,"o":0.25},{"t":27,"m":1.0,"c":0.06,"o":0.23},{"t":29,"m":1.08,"c":0.1,"o":0.24},{"t":31,"m":1.15,"c":0.35,"o":0.26},{"t":33,"m":1.25,"c":0.48,"o":0.23},{"t":35,"m":1.18,"c":0.28,"o":0.25},{"t":37,"m":1.22,"c":0.44,"o":0.24},{"t":39,"m":1.3,"c":0.32,"o":0.22},{"t":41,"m":1.15,"c":0.4,"o":0.25},{"t":43,"m":1.25,"c":0.5,"o":0.23},{"t":45,"m":1.2,"c":0.3,"o":0.26},{"t":47,"m":1.15,"c":0.42,"o":0.24},{"t":49,"m":1.28,"c":0.35,"o":0.22},{"t":51,"m":1.15,"c":0.46,"o":0.25},{"t":53,"m":1.2,"c":0.26,"o":0.23},{"t":55,"m":1.25,"c":0.4,"o":0.24},{"t":57,"m":1.1,"c":0.34,"o":0.26},{"t":59,"m":1.2,"c":0.47,"o":0.23},{"t":61,"m":1.15,"c":0.3,"o":0.25},{"t":63,"m":1.22,"c":0.44,"o":0.24},{"t":65,"m":1.28,"c":0.36,"o":0.22},{"t":67,"m":1.25,"c":0.52,"o":0.25},{"t":69,"m":1.2,"c":0.33,"o":0.23},{"t":71,"m":1.3,"c":0.42,"o":0.24},{"t":73,"m":1.25,"c":0.3,"o":0.26},{"t":75,"m":1.32,"c":0.46,"o":0.23},{"t":77,"m":1.22,"c":0.36,"o":0.25},{"t":79,"m":1.12,"c":0.44,"o":0.24},{"t":81,"m":1.08,"c":0.33,"o":0.22},{"t":83,"m":1.05,"c":0.5,"o":0.25},{"t":85,"m":1.0,"c":0.3,"o":0.23},{"t":87,"m":1.05,"c":0.4,"o":0.24},{"t":89,"m":1.1,"c":0.34,"o":0.26},{"t":91,"m":0.98,"c":0.46,"o":0.23},{"t":93,"m":1.12,"c":0.28,"o":0.25},{"t":95,"m":1.05,"c":0.42,"o":0.24},{"t":97,"m":1.1,"c":0.36,"o":0.22},{"t":99,"m":1.18,"c":0.48,"o":0.25},{"t":101,"m":1.2,"c":0.3,"o":0.23},{"t":103,"m":1.12,"c":0.42,"o":0.24},{"t":105,"m":1.22,"c":0.36,"o":0.26},{"t":107,"m":1.05,"c":0.44,"o":0.23},{"t":109,"m":1.02,"c":0.32,"o":0.25},{"t":111,"m":1.08,"c":0.48,"o":0.24},{"t":113,"m":1.0,"c":0.35,"o":0.22},{"t":115,"m":1.02,"c":0.43,"o":0.25},{"t":117,"m":1.05,"c":0.3,"o":0.23},{"t":119,"m":0.95,"c":0.46,"o":0.24},{"t":121,"m":0.92,"c":0.34,"o":0.26},{"t":123,"m":0.95,"c":0.41,"o":0.23},{"t":125,"m":0.88,"c":0.29,"o":0.25},{"t":127,"m":0.95,"c":0.47,"o":0.24},{"t":129,"m":0.9,"c":0.33,"o":0.22},{"t":131,"m":0.95,"c":0.4,"o":0.25},{"t":133,"m":1.02,"c":0.36,"o":0.23},{"t":135,"m":0.98,"c":0.45,"o":0.24},{"t":137,"m":0.8,"c":0.3,"o":0.26},{"t":139,"m":0.75,"c":0.42,"o":0.23},{"t":141,"m":0.78,"c":0.35,"o":0.25},{"t":143,"m":0.7,"c":0.46,"o":0.24},{"t":145,"m":0.82,"c":0.31,"o":0.22},{"t":147,"m":0.72,"c":0.4,"o":0.25},{"t":149,"m":0.78,"c":0.34,"o":0.23},{"t":151,"m":0.72,"c":0.45,"o":0.24},{"t":153,"m":0.76,"c":0.32,"o":0.26},{"t":155,"m":0.7,"c":0.42,"o":0.23},{"t":157,"m":0.78,"c":0.3,"o":0.25},{"t":159,"m":0.68,"c":0.44,"o":0.24},{"t":161,"m":0.76,"c":0.36,"o":0.22},{"t":163,"m":0.72,"c":0.41,"o":0.25},{"t":165,"m":0.8,"c":0.33,"o":0.23},{"t":167,"m":0.73,"c":0.47,"o":0.24},{"t":169,"m":0.7,"c":0.3,"o":0.26},{"t":171,"m":0.8,"c":0.42,"o":0.23},{"t":173,"m":0.74,"c":0.35,"o":0.25},{"t":175,"m":0.72,"c":0.44,"o":0.24},{"t":177,"m":0.76,"c":0.31,"o":0.22},{"t":179,"m":0.7,"c":0.4,"o":0.25},{"t":181,"m":0.78,"c":0.36,"o":0.23},{"t":183,"m":0.74,"c":0.43,"o":0.24},{"t":185,"m":0.8,"c":0.32,"o":0.26},{"t":187,"m":0.72,"c":0.41,"o":0.23},{"t":189,"m":0.74,"c":0.37,"o":0.25},{"t":191,"m":0.68,"c":0.45,"o":0.24},{"t":193,"m":0.75,"c":0.33,"o":0.22},{"t":195,"m":0.73,"c":0.42,"o":0.25},{"t":197,"m":0.78,"c":0.36,"o":0.23},{"t":199,"m":0.76,"c":0.4,"o":0.24}],
"B2":[{"t":0,"m":1.2,"c":0.05,"o":0.06},{"t":2,"m":1.08,"c":0.1,"o":0.07},{"t":4,"m":1.25,"c":0.02,"o":0.05},{"t":6,"m":1.02,"c":0.12,"o":0.08},{"t":8,"m":1.22,"c":0.04,"o":0.06},{"t":10,"m":1.15,"c":0.09,"o":0.07},{"t":12,"m":1.28,"c":0.03,"o":0.05},{"t":14,"m":1.1,"c":0.11,"o":0.08},{"t":16,"m":1.2,"c":0.06,"o":0.06},{"t":18,"m":1.12,"c":0.01,"o":0.07},{"t":20,"m":1.25,"c":0.1,"o":0.06},{"t":22,"m":1.15,"c":0.18,"o":0.08},{"t":24,"m":1.22,"c":0.04,"o":0.07},{"t":26,"m":1.12,"c":0.08,"o":0.05},{"t":28,"m":1.28,"c":0.12,"o":0.07},{"t":30,"m":1.18,"c":0.03,"o":0.06},{"t":32,"m":1.25,"c":0.09,"o":0.08},{"t":34,"m":1.08,"c":0.18,"o":0.07},{"t":36,"m":1.15,"c":0.05,"o":0.06},{"t":38,"m":1.35,"c":0.1,"o":0.08},{"t":40,"m":1.22,"c":0.02,"o":0.07},{"t":42,"m":1.4,"c":0.08,"o":0.06},{"t":44,"m":1.28,"c":0.12,"o":0.08},{"t":46,"m":1.35,"c":0.04,"o":0.07},{"t":48,"m":1.25,"c":0.09,"o":0.09},{"t":50,"m":1.3,"c":0.03,"o":0.07},{"t":52,"m":1.2,"c":0.62,"o":0.08},{"t":54,"m":1.25,"c":0.06,"o":0.06},{"t":56,"m":1.12,"c":0.11,"o":0.07},{"t":58,"m":1.22,"c":0.02,"o":0.08},{"t":60,"m":1.08,"c":0.15,"o":0.07},{"t":62,"m":1.18,"c":0.05,"o":0.06},{"t":64,"m":1.12,"c":0.1,"o":0.08},{"t":66,"m":1.25,"c":0.03,"o":0.07},{"t":68,"m":1.18,"c":0.08,"o":0.09},{"t":70,"m":1.1,"c":0.12,"o":0.07},{"t":72,"m":1.15,"c":0.2,"o":0.08},{"t":74,"m":1.05,"c":0.62,"o":0.07},{"t":76,"m":1.18,"c":0.28,"o":0.08},{"t":78,"m":1.3,"c":0.04,"o":0.07},{"t":80,"m":1.4,"c":0.1,"o":0.09},{"t":82,"m":1.25,"c":0.02,"o":0.08},{"t":84,"m":1.32,"c":0.08,"o":0.07},{"t":86,"m":1.22,"c":0.12,"o":0.08},{"t":88,"m":1.28,"c":0.28,"o":0.09},{"t":90,"m":1.18,"c":0.05,"o":0.07},{"t":92,"m":1.25,"c":0.1,"o":0.08},{"t":94,"m":1.15,"c":0.03,"o":0.09},{"t":96,"m":1.28,"c":0.09,"o":0.07},{"t":98,"m":1.2,"c":0.12,"o":0.08},{"t":100,"m":1.25,"c":0.04,"o":0.09},{"t":102,"m":1.18,"c":0.1,"o":0.08},{"t":104,"m":1.22,"c":0.58,"o":0.07},{"t":106,"m":1.15,"c":0.06,"o":0.09},{"t":108,"m":1.2,"c":0.11,"o":0.08},{"t":110,"m":1.12,"c":0.02,"o":0.07},{"t":112,"m":1.2,"c":0.08,"o":0.09},{"t":114,"m":1.08,"c":0.12,"o":0.08},{"t":116,"m":1.02,"c":0.03,"o":0.1},{"t":118,"m":1.28,"c":0.45,"o":0.08},{"t":120,"m":1.18,"c":0.2,"o":0.09},{"t":122,"m":1.25,"c":0.25,"o":0.08},{"t":124,"m":1.12,"c":0.05,"o":0.07},{"t":126,"m":1.2,"c":0.1,"o":0.09},{"t":128,"m":1.15,"c":0.02,"o":0.08},{"t":130,"m":1.3,"c":0.09,"o":0.07},{"t":132,"m":1.22,"c":0.12,"o":0.09},{"t":134,"m":1.35,"c":0.04,"o":0.08},{"t":136,"m":1.25,"c":0.1,"o":0.07},{"t":138,"m":1.3,"c":0.02,"o":0.09},{"t":140,"m":1.22,"c":0.08,"o":0.08},{"t":142,"m":1.35,"c":0.12,"o":0.07},{"t":144,"m":1.28,"c":0.05,"o":0.08},{"t":146,"m":1.32,"c":0.6,"o":0.09},{"t":148,"m":1.15,"c":0.09,"o":0.07},{"t":150,"m":1.1,"c":0.03,"o":0.08},{"t":152,"m":1.22,"c":0.11,"o":0.09},{"t":154,"m":1.3,"c":0.06,"o":0.07},{"t":156,"m":1.35,"c":0.1,"o":0.08},{"t":158,"m":1.2,"c":0.22,"o":0.09},{"t":160,"m":1.38,"c":0.7,"o":0.08},{"t":162,"m":1.45,"c":0.05,"o":0.07},{"t":164,"m":1.3,"c":0.12,"o":0.09},{"t":166,"m":1.38,"c":0.03,"o":0.08},{"t":168,"m":1.25,"c":0.09,"o":0.07},{"t":170,"m":1.35,"c":0.11,"o":0.08},{"t":172,"m":1.22,"c":0.04,"o":0.09},{"t":174,"m":1.4,"c":0.1,"o":0.07},{"t":176,"m":1.28,"c":0.02,"o":0.08},{"t":178,"m":1.32,"c":0.08,"o":0.07},{"t":180,"m":1.25,"c":0.12,"o":0.09},{"t":182,"m":1.48,"c":0.05,"o":0.08},{"t":184,"m":1.35,"c":0.1,"o":0.07},{"t":186,"m":1.3,"c":0.02,"o":0.09},{"t":188,"m":1.22,"c":0.09,"o":0.08},{"t":190,"m":1.38,"c":0.12,"o":0.07},{"t":192,"m":1.2,"c":0.04,"o":0.08},{"t":194,"m":1.28,"c":0.1,"o":0.09},{"t":196,"m":1.18,"c":0.03,"o":0.07},{"t":198,"m":1.3,"c":0.08,"o":0.08},{"t":200,"m":1.22,"c":0.32,"o":0.07},
{"t":1,"m":1.15,"c":0.08,"o":0.07},{"t":3,"m":1.2,"c":0.03,"o":0.06},{"t":5,"m":1.1,"c":0.11,"o":0.08},{"t":7,"m":1.15,"c":0.05,"o":0.06},{"t":9,"m":1.05,"c":0.1,"o":0.07},{"t":11,"m":1.2,"c":0.02,"o":0.05},{"t":13,"m":1.15,"c":0.09,"o":0.07},{"t":15,"m":1.25,"c":0.12,"o":0.06},{"t":17,"m":1.15,"c":0.04,"o":0.08},{"t":19,"m":1.22,"c":0.1,"o":0.07},{"t":21,"m":1.1,"c":0.03,"o":0.06},{"t":23,"m":1.28,"c":0.11,"o":0.08},{"t":25,"m":1.18,"c":0.06,"o":0.07},{"t":27,"m":1.2,"c":0.09,"o":0.06},{"t":29,"m":1.12,"c":0.02,"o":0.08},{"t":31,"m":1.22,"c":0.12,"o":0.07},{"t":33,"m":1.15,"c":0.05,"o":0.06},{"t":35,"m":1.25,"c":0.1,"o":0.08},{"t":37,"m":1.2,"c":0.03,"o":0.07},{"t":39,"m":1.28,"c":0.11,"o":0.08},{"t":41,"m":1.3,"c":0.06,"o":0.07},{"t":43,"m":1.2,"c":0.09,"o":0.08},{"t":45,"m":1.3,"c":0.02,"o":0.07},{"t":47,"m":1.22,"c":0.12,"o":0.09},{"t":49,"m":1.32,"c":0.05,"o":0.07},{"t":51,"m":1.25,"c":0.1,"o":0.08},{"t":53,"m":1.22,"c":0.45,"o":0.07},{"t":55,"m":1.15,"c":0.03,"o":0.08},{"t":57,"m":1.2,"c":0.09,"o":0.07},{"t":59,"m":1.15,"c":0.12,"o":0.06},{"t":61,"m":1.25,"c":0.04,"o":0.08},{"t":63,"m":1.1,"c":0.1,"o":0.07},{"t":65,"m":1.2,"c":0.03,"o":0.08},{"t":67,"m":1.12,"c":0.11,"o":0.07},{"t":69,"m":1.22,"c":0.06,"o":0.08},{"t":71,"m":1.15,"c":0.09,"o":0.07},{"t":73,"m":1.12,"c":0.02,"o":0.08},{"t":75,"m":1.1,"c":0.6,"o":0.07},{"t":77,"m":1.25,"c":0.08,"o":0.08},{"t":79,"m":1.35,"c":0.11,"o":0.07},{"t":81,"m":1.3,"c":0.04,"o":0.08},{"t":83,"m":1.2,"c":0.1,"o":0.09},{"t":85,"m":1.28,"c":0.03,"o":0.08},{"t":87,"m":1.18,"c":0.09,"o":0.07},{"t":89,"m":1.25,"c":0.12,"o":0.08},{"t":91,"m":1.2,"c":0.05,"o":0.09},{"t":93,"m":1.15,"c":0.1,"o":0.07},{"t":95,"m":1.22,"c":0.02,"o":0.08},{"t":97,"m":1.18,"c":0.08,"o":0.09},{"t":99,"m":1.25,"c":0.11,"o":0.08},{"t":101,"m":1.15,"c":0.05,"o":0.07},{"t":103,"m":1.25,"c":0.1,"o":0.09},{"t":105,"m":1.2,"c":0.03,"o":0.08},{"t":107,"m":1.12,"c":0.09,"o":0.07},{"t":109,"m":1.18,"c":0.12,"o":0.09},{"t":111,"m":1.1,"c":0.04,"o":0.08},{"t":113,"m":1.15,"c":0.1,"o":0.07},{"t":115,"m":1.05,"c":0.02,"o":0.09},{"t":117,"m":1.12,"c":0.3,"o":0.08},{"t":119,"m":1.22,"c":0.09,"o":0.09},{"t":121,"m":1.15,"c":0.12,"o":0.08},{"t":123,"m":1.2,"c":0.04,"o":0.07},{"t":125,"m":1.15,"c":0.1,"o":0.09},{"t":127,"m":1.22,"c":0.03,"o":0.08},{"t":129,"m":1.25,"c":0.09,"o":0.07},{"t":131,"m":1.18,"c":0.12,"o":0.09},{"t":133,"m":1.3,"c":0.05,"o":0.08},{"t":135,"m":1.28,"c":0.1,"o":0.07},{"t":137,"m":1.22,"c":0.02,"o":0.09},{"t":139,"m":1.32,"c":0.08,"o":0.08},{"t":141,"m":1.25,"c":0.11,"o":0.07},{"t":143,"m":1.3,"c":0.04,"o":0.08},{"t":145,"m":1.2,"c":0.09,"o":0.09},{"t":147,"m":1.22,"c":0.55,"o":0.07},{"t":149,"m":1.18,"c":0.05,"o":0.08},{"t":151,"m":1.15,"c":0.1,"o":0.09},{"t":153,"m":1.25,"c":0.02,"o":0.07},{"t":155,"m":1.28,"c":0.09,"o":0.08},{"t":157,"m":1.3,"c":0.12,"o":0.09},{"t":159,"m":1.25,"c":0.25,"o":0.08},{"t":161,"m":1.3,"c":0.08,"o":0.07},{"t":163,"m":1.4,"c":0.11,"o":0.09},{"t":165,"m":1.35,"c":0.04,"o":0.08},{"t":167,"m":1.3,"c":0.1,"o":0.07},{"t":169,"m":1.38,"c":0.03,"o":0.08},{"t":171,"m":1.28,"c":0.09,"o":0.09},{"t":173,"m":1.32,"c":0.12,"o":0.07},{"t":175,"m":1.35,"c":0.05,"o":0.08},{"t":177,"m":1.22,"c":0.1,"o":0.07},{"t":179,"m":1.4,"c":0.02,"o":0.09},{"t":181,"m":1.3,"c":0.08,"o":0.08},{"t":183,"m":1.38,"c":0.11,"o":0.07},{"t":185,"m":1.25,"c":0.04,"o":0.09},{"t":187,"m":1.32,"c":0.1,"o":0.08},{"t":189,"m":1.3,"c":0.03,"o":0.07},{"t":191,"m":1.28,"c":0.09,"o":0.08},{"t":193,"m":1.35,"c":0.12,"o":0.09},{"t":195,"m":1.25,"c":0.05,"o":0.07},{"t":197,"m":1.22,"c":0.1,"o":0.08},{"t":199,"m":1.28,"c":0.03,"o":0.07}],
"B3":[{"t":0,"m":1.62,"c":0.06,"o":0.03},{"t":2,"m":1.3,"c":0.1,"o":0.04},{"t":4,"m":1.5,"c":0.02,"o":0.02},{"t":6,"m":1.7,"c":0.12,"o":0.05},{"t":8,"m":1.42,"c":0.04,"o":0.03},{"t":10,"m":1.55,"c":0.09,"o":0.04},{"t":12,"m":1.38,"c":0.03,"o":0.03},{"t":14,"m":1.6,"c":0.11,"o":0.05},{"t":16,"m":1.5,"c":0.05,"o":0.04},{"t":18,"m":1.75,"c":0.1,"o":0.03},{"t":20,"m":1.62,"c":0.02,"o":0.03},{"t":22,"m":1.55,"c":0.13,"o":0.04},{"t":24,"m":1.7,"c":0.06,"o":0.02},{"t":26,"m":1.58,"c":0.09,"o":0.05},{"t":28,"m":1.78,"c":0.03,"o":0.03},{"t":30,"m":1.62,"c":0.11,"o":0.04},{"t":32,"m":1.72,"c":0.05,"o":0.03},{"t":34,"m":1.55,"c":0.1,"o":0.05},{"t":36,"m":1.45,"c":0.15,"o":0.04},{"t":38,"m":1.6,"c":0.04,"o":0.03},{"t":40,"m":1.4,"c":0.09,"o":0.03},{"t":42,"m":1.65,"c":0.02,"o":0.04},{"t":44,"m":1.55,"c":0.11,"o":0.02},{"t":46,"m":1.7,"c":0.05,"o":0.05},{"t":47.2,"m":1.62,"c":0.52,"o":0.04},{"t":48,"m":1.5,"c":0.08,"o":0.03},{"t":50,"m":1.55,"c":0.03,"o":0.04},{"t":52,"m":1.35,"c":0.1,"o":0.03},{"t":54,"m":1.28,"c":0.05,"o":0.05},{"t":56,"m":1.4,"c":0.12,"o":0.04},{"t":58,"m":1.3,"c":0.02,"o":0.03},{"t":60,"m":1.5,"c":0.09,"o":0.03},{"t":62,"m":1.45,"c":0.04,"o":0.04},{"t":64,"m":1.65,"c":0.11,"o":0.02},{"t":66,"m":1.7,"c":0.06,"o":0.05},{"t":68,"m":1.9,"c":0.14,"o":0.03},{"t":70,"m":1.75,"c":0.03,"o":0.04},{"t":72,"m":1.6,"c":0.09,"o":0.03},{"t":74,"m":1.68,"c":0.05,"o":0.05},{"t":76,"m":1.5,"c":0.12,"o":0.04},{"t":78,"m":1.62,"c":0.02,"o":0.03},{"t":80,"m":1.72,"c":0.1,"o":0.03},{"t":82,"m":1.55,"c":0.05,"o":0.04},{"t":84,"m":1.65,"c":0.17,"o":0.02},{"t":86,"m":1.58,"c":0.03,"o":0.05},{"t":88,"m":1.6,"c":0.09,"o":0.03},{"t":89.8,"m":1.62,"c":0.72,"o":0.04},{"t":90.8,"m":1.75,"c":0.78,"o":0.04},{"t":92,"m":1.98,"c":0.1,"o":0.04},{"t":93.2,"m":2.05,"c":0.7,"o":0.04},{"t":94,"m":1.7,"c":0.2,"o":0.05},{"t":96,"m":1.62,"c":0.05,"o":0.04},{"t":98,"m":1.75,"c":0.1,"o":0.03},{"t":100,"m":1.55,"c":0.03,"o":0.03},{"t":102,"m":1.68,"c":0.11,"o":0.04},{"t":104,"m":1.5,"c":0.06,"o":0.05},{"t":106,"m":1.6,"c":0.09,"o":0.03},{"t":108,"m":1.72,"c":0.02,"o":0.04},{"t":110,"m":1.5,"c":0.12,"o":0.03},{"t":112,"m":1.62,"c":0.04,"o":0.05},{"t":114,"m":1.45,"c":0.08,"o":0.04},{"t":116,"m":1.58,"c":0.11,"o":0.03},{"t":118,"m":1.4,"c":0.03,"o":0.04},{"t":120,"m":1.55,"c":0.1,"o":0.05},{"t":122,"m":1.65,"c":0.05,"o":0.03},{"t":124,"m":1.45,"c":0.12,"o":0.04},{"t":126,"m":1.52,"c":0.02,"o":0.03},{"t":128,"m":1.35,"c":0.09,"o":0.05},{"t":130,"m":1.5,"c":0.05,"o":0.04},{"t":132,"m":1.42,"c":0.11,"o":0.03},{"t":134,"m":1.55,"c":0.03,"o":0.04},{"t":136,"m":1.48,"c":0.08,"o":0.05},{"t":138,"m":1.4,"c":0.12,"o":0.03},{"t":140,"m":1.5,"c":0.04,"o":0.04},{"t":142,"m":1.32,"c":0.1,"o":0.03},{"t":144,"m":1.38,"c":0.02,"o":0.05},{"t":146,"m":1.25,"c":0.09,"o":0.04},{"t":148,"m":1.42,"c":0.05,"o":0.03},{"t":150,"m":1.5,"c":0.11,"o":0.04},{"t":152,"m":1.38,"c":0.03,"o":0.05},{"t":154,"m":1.45,"c":0.1,"o":0.04},{"t":156,"m":1.3,"c":0.06,"o":0.03},{"t":158,"m":1.22,"c":0.12,"o":0.04},{"t":160,"m":1.3,"c":0.02,"o":0.05},{"t":162,"m":1.15,"c":0.09,"o":0.03},{"t":164,"m":1.25,"c":0.05,"o":0.04},{"t":166,"m":1.42,"c":0.11,"o":0.03},{"t":168,"m":1.3,"c":0.03,"o":0.05},{"t":170,"m":1.35,"c":0.08,"o":0.04},{"t":172,"m":1.22,"c":0.12,"o":0.03},{"t":174,"m":1.38,"c":0.04,"o":0.04},{"t":176,"m":1.3,"c":0.47,"o":0.05},{"t":178,"m":1.25,"c":0.06,"o":0.03},{"t":180,"m":1.32,"c":0.11,"o":0.04},{"t":182,"m":1.2,"c":0.03,"o":0.03},{"t":184,"m":1.3,"c":0.09,"o":0.05},{"t":186,"m":1.18,"c":0.12,"o":0.04},{"t":188,"m":1.28,"c":0.04,"o":0.03},{"t":190,"m":1.38,"c":0.1,"o":0.04},{"t":192,"m":1.3,"c":0.02,"o":0.05},{"t":194,"m":1.45,"c":0.08,"o":0.03},{"t":196,"m":1.35,"c":0.11,"o":0.04},{"t":198,"m":1.42,"c":0.05,"o":0.03},{"t":200,"m":1.38,"c":0.09,"o":0.04},
{"t":1,"m":1.45,"c":0.09,"o":0.04},{"t":3,"m":1.4,"c":0.03,"o":0.03},{"t":5,"m":1.62,"c":0.11,"o":0.04},{"t":7,"m":1.55,"c":0.05,"o":0.03},{"t":9,"m":1.5,"c":0.1,"o":0.05},{"t":11,"m":1.45,"c":0.03,"o":0.04},{"t":13,"m":1.52,"c":0.12,"o":0.03},{"t":15,"m":1.55,"c":0.06,"o":0.04},{"t":17,"m":1.65,"c":0.09,"o":0.05},{"t":19,"m":1.58,"c":0.02,"o":0.03},{"t":21,"m":1.7,"c":0.11,"o":0.04},{"t":23,"m":1.6,"c":0.05,"o":0.03},{"t":25,"m":1.65,"c":0.1,"o":0.05},{"t":27,"m":1.72,"c":0.03,"o":0.04},{"t":29,"m":1.68,"c":0.12,"o":0.03},{"t":31,"m":1.75,"c":0.06,"o":0.04},{"t":33,"m":1.62,"c":0.09,"o":0.05},{"t":35,"m":1.5,"c":0.03,"o":0.03},{"t":37,"m":1.55,"c":0.11,"o":0.04},{"t":39,"m":1.52,"c":0.05,"o":0.03},{"t":41,"m":1.58,"c":0.1,"o":0.05},{"t":43,"m":1.6,"c":0.02,"o":0.04},{"t":45,"m":1.62,"c":0.09,"o":0.03},{"t":47,"m":1.55,"c":0.45,"o":0.04},{"t":49,"m":1.6,"c":0.11,"o":0.05},{"t":51,"m":1.45,"c":0.04,"o":0.03},{"t":53,"m":1.3,"c":0.09,"o":0.04},{"t":55,"m":1.35,"c":0.12,"o":0.03},{"t":57,"m":1.25,"c":0.05,"o":0.05},{"t":59,"m":1.4,"c":0.1,"o":0.04},{"t":61,"m":1.55,"c":0.03,"o":0.03},{"t":63,"m":1.5,"c":0.11,"o":0.04},{"t":65,"m":1.62,"c":0.06,"o":0.05},{"t":67,"m":1.78,"c":0.09,"o":0.03},{"t":69,"m":1.82,"c":0.02,"o":0.04},{"t":71,"m":1.65,"c":0.11,"o":0.03},{"t":73,"m":1.7,"c":0.05,"o":0.05},{"t":75,"m":1.58,"c":0.1,"o":0.04},{"t":77,"m":1.55,"c":0.03,"o":0.03},{"t":79,"m":1.68,"c":0.12,"o":0.04},{"t":81,"m":1.6,"c":0.06,"o":0.05},{"t":83,"m":1.58,"c":0.09,"o":0.03},{"t":85,"m":1.62,"c":0.02,"o":0.04},{"t":87,"m":1.55,"c":0.11,"o":0.03},{"t":89,"m":1.68,"c":0.05,"o":0.05},{"t":91,"m":1.9,"c":0.74,"o":0.04},{"t":93,"m":2.0,"c":0.68,"o":0.04},{"t":95,"m":1.65,"c":0.09,"o":0.03},{"t":97,"m":1.7,"c":0.04,"o":0.04},{"t":99,"m":1.62,"c":0.11,"o":0.05},{"t":101,"m":1.6,"c":0.06,"o":0.03},{"t":103,"m":1.55,"c":0.1,"o":0.04},{"t":105,"m":1.68,"c":0.03,"o":0.03},{"t":107,"m":1.52,"c":0.09,"o":0.05},{"t":109,"m":1.65,"c":0.12,"o":0.04},{"t":111,"m":1.55,"c":0.05,"o":0.03},{"t":113,"m":1.5,"c":0.1,"o":0.04},{"t":115,"m":1.52,"c":0.03,"o":0.05},{"t":117,"m":1.45,"c":0.11,"o":0.03},{"t":119,"m":1.5,"c":0.06,"o":0.04},{"t":121,"m":1.6,"c":0.09,"o":0.03},{"t":123,"m":1.55,"c":0.02,"o":0.05},{"t":125,"m":1.42,"c":0.11,"o":0.04},{"t":127,"m":1.45,"c":0.05,"o":0.03},{"t":129,"m":1.4,"c":0.1,"o":0.04},{"t":131,"m":1.55,"c":0.03,"o":0.05},{"t":133,"m":1.48,"c":0.12,"o":0.03},{"t":135,"m":1.5,"c":0.06,"o":0.04},{"t":137,"m":1.42,"c":0.09,"o":0.03},{"t":139,"m":1.45,"c":0.02,"o":0.05},{"t":141,"m":1.38,"c":0.11,"o":0.04},{"t":143,"m":1.42,"c":0.05,"o":0.03},{"t":145,"m":1.35,"c":0.1,"o":0.04},{"t":147,"m":1.32,"c":0.03,"o":0.05},{"t":149,"m":1.48,"c":0.12,"o":0.03},{"t":151,"m":1.42,"c":0.06,"o":0.04},{"t":153,"m":1.4,"c":0.09,"o":0.03},{"t":155,"m":1.38,"c":0.02,"o":0.05},{"t":157,"m":1.25,"c":0.11,"o":0.04},{"t":159,"m":1.28,"c":0.05,"o":0.03},{"t":161,"m":1.2,"c":0.1,"o":0.04},{"t":163,"m":1.18,"c":0.03,"o":0.05},{"t":165,"m":1.35,"c":0.12,"o":0.03},{"t":167,"m":1.25,"c":0.06,"o":0.04},{"t":169,"m":1.32,"c":0.09,"o":0.03},{"t":171,"m":1.28,"c":0.02,"o":0.05},{"t":173,"m":1.3,"c":0.11,"o":0.04},{"t":175,"m":1.25,"c":0.05,"o":0.03},{"t":177,"m":1.35,"c":0.1,"o":0.04},{"t":179,"m":1.22,"c":0.03,"o":0.05},{"t":181,"m":1.28,"c":0.12,"o":0.03},{"t":183,"m":1.25,"c":0.06,"o":0.04},{"t":185,"m":1.22,"c":0.09,"o":0.03},{"t":187,"m":1.2,"c":0.02,"o":0.05},{"t":189,"m":1.32,"c":0.11,"o":0.04},{"t":191,"m":1.35,"c":0.05,"o":0.03},{"t":193,"m":1.4,"c":0.1,"o":0.04},{"t":195,"m":1.42,"c":0.03,"o":0.05},{"t":197,"m":1.38,"c":0.12,"o":0.03},{"t":199,"m":1.4,"c":0.06,"o":0.04}],
"SA1":[{"t":0,"s":0},{"t":38.5,"s":0},{"t":38.5,"s":1.12},{"t":200,"s":1.12}],
"SA2":[{"t":0,"s":0},{"t":38.7,"s":0},{"t":38.7,"s":1.95},{"t":54,"s":1.95},{"t":54,"s":0},{"t":101.7,"s":0},{"t":101.7,"s":1.95},{"t":122.3,"s":1.95},{"t":122.3,"s":0},{"t":200,"s":0}],
"SA3":[{"t":0,"s":0},{"t":43.9,"s":0},{"t":43.9,"s":1.19},{"t":57.9,"s":1.19},{"t":57.9,"s":0},{"t":113.2,"s":0},{"t":113.2,"s":1.19},{"t":153.7,"s":1.19},{"t":153.7,"s":0},{"t":200,"s":0}],
"SB1":[{"t":0,"s":0},{"t":30.9,"s":0},{"t":30.9,"s":1.4},{"t":200,"s":1.4}],
"SB2":[{"t":0,"s":0},{"t":52,"s":0},{"t":52,"s":1.56},{"t":52.5,"s":1.56},{"t":52.5,"s":0},{"t":74.4,"s":0},{"t":74.4,"s":1.56},{"t":75.1,"s":1.56},{"t":75.1,"s":0},{"t":117.2,"s":0},{"t":117.2,"s":1.56},{"t":117.9,"s":1.56},{"t":117.9,"s":0},{"t":146.2,"s":0},{"t":146.2,"s":1.56},{"t":147.2,"s":1.56},{"t":147.2,"s":0},{"t":159.9,"s":0},{"t":159.9,"s":1.56},{"t":160.6,"s":1.56},{"t":160.6,"s":0},{"t":200,"s":0}],
"SB3":[{"t":0,"s":0},{"t":46.9,"s":0},{"t":46.9,"s":2.2},{"t":47.6,"s":2.2},{"t":47.6,"s":0},{"t":89.4,"s":0},{"t":89.4,"s":2.2},{"t":91.2,"s":2.2},{"t":91.2,"s":0},{"t":92.5,"s":0},{"t":92.5,"s":2.2},{"t":94,"s":2.2},{"t":94,"s":0},{"t":200,"s":0}],
"RA1":[{"i":0,"s":5,"e":191},{"i":1,"s":19,"e":186},{"i":2,"s":22,"e":193},{"i":3,"s":24.7,"e":178},{"i":4,"s":25.9,"e":189},{"i":5,"s":27.1,"e":194},{"i":6,"s":28.3,"e":172},{"i":7,"s":29.5,"e":188},{"i":8,"s":30.7,"e":192},{"i":9,"s":31.9,"e":183},{"i":10,"s":33.1,"e":191},{"i":11,"s":34.2,"e":186},{"i":12,"s":35.2,"e":193},{"i":13,"s":36.2,"e":178},{"i":14,"s":37.3,"e":189},{"i":15,"s":38.3,"e":194},{"i":16,"s":39.4,"e":172},{"i":17,"s":40.4,"e":188},{"i":18,"s":41.3,"e":192},{"i":19,"s":42.3,"e":183},{"i":20,"s":43.3,"e":191},{"i":21,"s":44.2,"e":186},{"i":22,"s":45.2,"e":193},{"i":23,"s":46.2,"e":178},{"i":24,"s":47.1,"e":189},{"i":25,"s":48.2,"e":194},{"i":26,"s":49.4,"e":172},{"i":27,"s":50.6,"e":188},{"i":28,"s":51.8,"e":192},{"i":29,"s":53,"e":183},{"i":30,"s":54.3,"e":191},{"i":31,"s":55.4,"e":186},{"i":32,"s":56.6,"e":193},{"i":33,"s":57.8,"e":178},{"i":34,"s":58.9,"e":189},{"i":35,"s":60.1,"e":194},{"i":36,"s":61.3,"e":172},{"i":37,"s":62.5,"e":188},{"i":38,"s":63.6,"e":192},{"i":39,"s":64.7,"e":183},{"i":40,"s":65.9,"e":191},{"i":41,"s":67,"e":186},{"i":42,"s":68.2,"e":193},{"i":43,"s":69.4,"e":178},{"i":44,"s":70.7,"e":189},{"i":45,"s":71.9,"e":194},{"i":46,"s":73.2,"e":172},{"i":47,"s":74.4,"e":188},{"i":48,"s":75.7,"e":192},{"i":49,"s":76.9,"e":183},{"i":50,"s":78.1,"e":191},{"i":51,"s":79.7,"e":186},{"i":52,"s":81.4,"e":193},{"i":53,"s":83,"e":178},{"i":54,"s":84.6,"e":189},{"i":55,"s":86.3,"e":194},{"i":56,"s":87.9,"e":172},{"i":57,"s":89.5,"e":188},{"i":58,"s":91.5,"e":192},{"i":59,"s":94.1,"e":183},{"i":60,"s":96.7,"e":191},{"i":61,"s":99.2,"e":186},{"i":62,"s":101.2,"e":193},{"i":63,"s":103.1,"e":178},{"i":64,"s":105.1,"e":189},{"i":65,"s":107.1,"e":194},{"i":66,"s":109,"e":172},{"i":67,"s":112.5,"e":188},{"i":68,"s":116.1,"e":192},{"i":69,"s":119.6,"e":183},{"i":70,"s":123.2,"e":191},{"i":71,"s":128.6,"e":186},{"i":72,"s":134.7,"e":193},{"i":73,"s":140.8,"e":178},{"i":74,"s":147,"e":189},{"i":75,"s":164,"e":194},{"i":76,"s":183,"e":192}],
"RA2":[{"i":0,"s":6,"e":191},{"i":1,"s":14.1,"e":186},{"i":2,"s":17.7,"e":193},{"i":3,"s":19.7,"e":178},{"i":4,"s":21.6,"e":189},{"i":5,"s":23.4,"e":194},{"i":6,"s":25.2,"e":172},{"i":7,"s":26.4,"e":188},{"i":8,"s":27.7,"e":192},{"i":9,"s":29,"e":183},{"i":10,"s":30.2,"e":191},{"i":11,"s":31.1,"e":186},{"i":12,"s":32,"e":193},{"i":13,"s":32.8,"e":178},{"i":14,"s":33.7,"e":189},{"i":15,"s":34.6,"e":194},{"i":16,"s":35.5,"e":172},{"i":17,"s":36.4,"e":188},{"i":18,"s":37.2,"e":192},{"i":19,"s":38,"e":183},{"i":20,"s":38.7,"e":191},{"i":21,"s":39.5,"e":186},{"i":22,"s":40.3,"e":193},{"i":23,"s":41,"e":178},{"i":24,"s":41.8,"e":189},{"i":25,"s":42.6,"e":194},{"i":26,"s":43.3,"e":172},{"i":27,"s":44.1,"e":188},{"i":28,"s":44.8,"e":192},{"i":29,"s":45.6,"e":183},{"i":30,"s":46.5,"e":191},{"i":31,"s":47.4,"e":186},{"i":32,"s":48.4,"e":193},{"i":33,"s":49.3,"e":178},{"i":34,"s":50.3,"e":189},{"i":35,"s":51.2,"e":194},{"i":36,"s":52.2,"e":172},{"i":37,"s":53.1,"e":188},{"i":38,"s":54.1,"e":192},{"i":39,"s":55.2,"e":183},{"i":40,"s":56.3,"e":191},{"i":41,"s":57.4,"e":186},{"i":42,"s":58.5,"e":193},{"i":43,"s":59.6,"e":178},{"i":44,"s":60.7,"e":189},{"i":45,"s":61.8,"e":194},{"i":46,"s":62.9,"e":172},{"i":47,"s":64,"e":188},{"i":48,"s":65.1,"e":192},{"i":49,"s":66.2,"e":183},{"i":50,"s":67.3,"e":191},{"i":51,"s":68.4,"e":186},{"i":52,"s":69.5,"e":193},{"i":53,"s":70.5,"e":178},{"i":54,"s":71.6,"e":189},{"i":55,"s":72.7,"e":194},{"i":56,"s":73.8,"e":172},{"i":57,"s":74.9,"e":188},{"i":58,"s":76,"e":192},{"i":59,"s":77.1,"e":183},{"i":60,"s":78.2,"e":191},{"i":61,"s":79.3,"e":186},{"i":62,"s":80.5,"e":193},{"i":63,"s":82.1,"e":178},{"i":64,"s":83.6,"e":189},{"i":65,"s":85.1,"e":194},{"i":66,"s":86.6,"e":172},{"i":67,"s":88.2,"e":188},{"i":68,"s":89.7,"e":192},{"i":69,"s":91.8,"e":183},{"i":70,"s":94.1,"e":191},{"i":71,"s":96.4,"e":186},{"i":72,"s":98.7,"e":193},{"i":73,"s":101,"e":178},{"i":74,"s":103.3,"e":189},{"i":75,"s":105.6,"e":194},{"i":76,"s":107.9,"e":172},{"i":77,"s":110.2,"e":188},{"i":78,"s":113,"e":192},{"i":79,"s":116.1,"e":183},{"i":80,"s":119.1,"e":191},{"i":81,"s":122.4,"e":186},{"i":82,"s":126,"e":193},{"i":83,"s":129.6,"e":178},{"i":84,"s":134,"e":189},{"i":85,"s":139,"e":194},{"i":86,"s":144,"e":172},{"i":87,"s":152.3,"e":188},{"i":88,"s":156.5,"e":192},{"i":89,"s":167.5,"e":183},{"i":90,"s":173,"e":191},{"i":91,"s":187,"e":192}],
"RA3":[{"i":0,"s":7,"e":191},{"i":1,"s":12.9,"e":186},{"i":2,"s":15.9,"e":193},{"i":3,"s":18.2,"e":178},{"i":4,"s":19.5,"e":189},{"i":5,"s":20.8,"e":194},{"i":6,"s":22.1,"e":172},{"i":7,"s":23.1,"e":188},{"i":8,"s":24,"e":192},{"i":9,"s":24.9,"e":183},{"i":10,"s":25.7,"e":191},{"i":11,"s":26.6,"e":186},{"i":12,"s":27.5,"e":193},{"i":13,"s":28.4,"e":178},{"i":14,"s":29.2,"e":189},{"i":15,"s":30.1,"e":194},{"i":16,"s":30.9,"e":172},{"i":17,"s":31.8,"e":188},{"i":18,"s":32.6,"e":192},{"i":19,"s":33.5,"e":183},{"i":20,"s":34.4,"e":191},{"i":21,"s":35.2,"e":186},{"i":22,"s":36.1,"e":193},{"i":23,"s":36.9,"e":178},{"i":24,"s":37.8,"e":189},{"i":25,"s":38.7,"e":194},{"i":26,"s":39.6,"e":172},{"i":27,"s":40.6,"e":188},{"i":28,"s":41.6,"e":192},{"i":29,"s":42.5,"e":183},{"i":30,"s":43.5,"e":191},{"i":31,"s":44.4,"e":186},{"i":32,"s":45.4,"e":193},{"i":33,"s":46.3,"e":178},{"i":34,"s":47.3,"e":189},{"i":35,"s":48.2,"e":194},{"i":36,"s":49.2,"e":172},{"i":37,"s":50.1,"e":188},{"i":38,"s":51,"e":192},{"i":39,"s":52,"e":183},{"i":40,"s":52.9,"e":191},{"i":41,"s":53.9,"e":186},{"i":42,"s":54.8,"e":193},{"i":43,"s":55.9,"e":178},{"i":44,"s":57,"e":189},{"i":45,"s":58.1,"e":194},{"i":46,"s":59.2,"e":172},{"i":47,"s":60.3,"e":188},{"i":48,"s":61.4,"e":192},{"i":49,"s":62.5,"e":183},{"i":50,"s":63.6,"e":191},{"i":51,"s":64.8,"e":186},{"i":52,"s":65.9,"e":193},{"i":53,"s":67,"e":178},{"i":54,"s":68.1,"e":189},{"i":55,"s":69.2,"e":194},{"i":56,"s":70.2,"e":172},{"i":57,"s":71.3,"e":188},{"i":58,"s":72.4,"e":192},{"i":59,"s":73.6,"e":183},{"i":60,"s":74.9,"e":191},{"i":61,"s":76.2,"e":186},{"i":62,"s":77.5,"e":193},{"i":63,"s":78.7,"e":178},{"i":64,"s":80,"e":189},{"i":65,"s":81.4,"e":194},{"i":66,"s":83.2,"e":172},{"i":67,"s":85,"e":188},{"i":68,"s":86.9,"e":192},{"i":69,"s":88.7,"e":183},{"i":70,"s":90.6,"e":191},{"i":71,"s":93.5,"e":186},{"i":72,"s":95.5,"e":193},{"i":73,"s":98.1,"e":178},{"i":74,"s":100.7,"e":189},{"i":75,"s":103.4,"e":194},{"i":76,"s":106.5,"e":172},{"i":77,"s":109.6,"e":188},{"i":78,"s":112.6,"e":192},{"i":79,"s":115.7,"e":183},{"i":80,"s":119.2,"e":191},{"i":81,"s":122.7,"e":186},{"i":82,"s":126.2,"e":193},{"i":83,"s":129.7,"e":178},{"i":84,"s":134.6,"e":189},{"i":85,"s":139.5,"e":194},{"i":86,"s":146,"e":172},{"i":87,"s":155.4,"e":188},{"i":88,"s":165.1,"e":192},{"i":89,"s":175.3,"e":183},{"i":90,"s":189,"e":191}],
"RB1":[{"i":0,"s":0,"e":183},{"i":1,"s":0,"e":176},{"i":2,"s":0,"e":184},{"i":3,"s":0,"e":168},{"i":4,"s":0,"e":181},{"i":5,"s":0,"e":184},{"i":6,"s":0,"e":160},{"i":7,"s":0.4,"e":179},{"i":8,"s":1.4,"e":183},{"i":9,"s":2.3,"e":172},{"i":10,"s":3.3,"e":183},{"i":11,"s":4.1,"e":176},{"i":12,"s":5,"e":184},{"i":13,"s":5.8,"e":168},{"i":14,"s":6.7,"e":181},{"i":15,"s":7.5,"e":184},{"i":16,"s":8.4,"e":160},{"i":17,"s":9.4,"e":179},{"i":18,"s":10.5,"e":183},{"i":19,"s":11.5,"e":172},{"i":20,"s":12.6,"e":183},{"i":21,"s":13.6,"e":176},{"i":22,"s":14.7,"e":184},{"i":23,"s":15.7,"e":168},{"i":24,"s":16.7,"e":181},{"i":25,"s":17.6,"e":184},{"i":26,"s":18.5,"e":160},{"i":27,"s":19.4,"e":179},{"i":28,"s":20.3,"e":183},{"i":29,"s":21.2,"e":172},{"i":30,"s":22,"e":183},{"i":31,"s":22.9,"e":176},{"i":32,"s":23.8,"e":184},{"i":33,"s":24.7,"e":168},{"i":34,"s":25.8,"e":181},{"i":35,"s":26.8,"e":184},{"i":36,"s":27.8,"e":160},{"i":37,"s":28.8,"e":179},{"i":38,"s":29.8,"e":183},{"i":39,"s":30.9,"e":172},{"i":40,"s":31.9,"e":183},{"i":41,"s":33,"e":176},{"i":42,"s":34.2,"e":184},{"i":43,"s":35.4,"e":168},{"i":44,"s":36.6,"e":181},{"i":45,"s":37.8,"e":184},{"i":46,"s":39,"e":160},{"i":47,"s":40.2,"e":179},{"i":48,"s":41.7,"e":183},{"i":49,"s":43.4,"e":172},{"i":50,"s":45.1,"e":183},{"i":51,"s":46.8,"e":176},{"i":52,"s":48.5,"e":184},{"i":53,"s":50.2,"e":168},{"i":54,"s":52.3,"e":181},{"i":55,"s":54.5,"e":184},{"i":56,"s":56.6,"e":160},{"i":57,"s":58.7,"e":179},{"i":58,"s":60.8,"e":183},{"i":59,"s":63.1,"e":172},{"i":60,"s":65.4,"e":183},{"i":61,"s":67.8,"e":176},{"i":62,"s":70.1,"e":184},{"i":63,"s":72.4,"e":168},{"i":64,"s":75.9,"e":181},{"i":65,"s":79.7,"e":184},{"i":66,"s":83.6,"e":160},{"i":67,"s":87.9,"e":179},{"i":68,"s":93.6,"e":183},{"i":69,"s":99.2,"e":172},{"i":70,"s":103.5,"e":183},{"i":71,"s":107.8,"e":176},{"i":72,"s":112.1,"e":184},{"i":73,"s":116,"e":168},{"i":74,"s":121.7,"e":181},{"i":75,"s":127.3,"e":184},{"i":76,"s":133.4,"e":160},{"i":77,"s":138.2,"e":179},{"i":78,"s":143,"e":183},{"i":79,"s":149.2,"e":172},{"i":80,"s":158.8,"e":183},{"i":81,"s":172,"e":176}],
"RB2":[{"i":0,"s":0.5},{"i":1,"s":1.5},{"i":2,"s":3.4},{"i":3,"s":5.3},{"i":4,"s":7.3},{"i":5,"s":8.6},{"i":6,"s":9.8},{"i":7,"s":10.9},{"i":8,"s":12},{"i":9,"s":13.2},{"i":10,"s":14.3},{"i":11,"s":15.1},{"i":12,"s":16},{"i":13,"s":16.9},{"i":14,"s":17.7},{"i":15,"s":18.6},{"i":16,"s":19.6},{"i":17,"s":21.1},{"i":18,"s":22.6},{"i":19,"s":24},{"i":20,"s":25.1},{"i":21,"s":26.3},{"i":22,"s":27.4},{"i":23,"s":28.6},{"i":24,"s":29.7},{"i":25,"s":30.8},{"i":26,"s":31.7},{"i":27,"s":32.7},{"i":28,"s":33.6},{"i":29,"s":34.6},{"i":30,"s":35.6},{"i":31,"s":36.5},{"i":32,"s":37.5},{"i":33,"s":38.4},{"i":34,"s":39.4},{"i":35,"s":40.4},{"i":36,"s":41.3},{"i":37,"s":42.3},{"i":38,"s":43.3},{"i":39,"s":45.3},{"i":40,"s":47.1},{"i":41,"s":48.8},{"i":42,"s":50.6},{"i":43,"s":51.9},{"i":44,"s":52.8},{"i":45,"s":53.8},{"i":46,"s":54.7},{"i":47,"s":55.7},{"i":48,"s":56.6},{"i":49,"s":57.6},{"i":50,"s":58.7},{"i":51,"s":60.5},{"i":52,"s":62.3},{"i":53,"s":64.1},{"i":54,"s":65.9},{"i":55,"s":68.4},{"i":56,"s":71.3},{"i":57,"s":74.2},{"i":58,"s":76.9},{"i":59,"s":79.1},{"i":60,"s":81.2},{"i":61,"s":83.4},{"i":62,"s":85.6},{"i":63,"s":88.3},{"i":64,"s":91.1},{"i":65,"s":93.6},{"i":66,"s":95.7},{"i":67,"s":97.8},{"i":68,"s":100},{"i":69,"s":102.1},{"i":70,"s":106.2},{"i":71,"s":110.5},{"i":72,"s":114.9},{"i":73,"s":119.4},{"i":74,"s":124.2},{"i":75,"s":129},{"i":76,"s":134.1},{"i":77,"s":141.2},{"i":78,"s":148.3},{"i":79,"s":157.3},{"i":80,"s":166.8},{"i":81,"s":174.9},{"i":82,"s":183}],
"RB3":[{"i":0,"s":0},{"i":1,"s":2.3},{"i":2,"s":5.1},{"i":3,"s":7.9},{"i":4,"s":9.5},{"i":5,"s":10.9},{"i":6,"s":12.1},{"i":7,"s":13.2},{"i":8,"s":14.3},{"i":9,"s":15.3},{"i":10,"s":16.4},{"i":11,"s":17.9},{"i":12,"s":19.3},{"i":13,"s":20.8},{"i":14,"s":22.2},{"i":15,"s":23.7},{"i":16,"s":25.1},{"i":17,"s":26.6},{"i":18,"s":28},{"i":19,"s":29.4},{"i":20,"s":30.8},{"i":21,"s":32.3},{"i":22,"s":33.7},{"i":23,"s":35.2},{"i":24,"s":36.6},{"i":25,"s":38},{"i":26,"s":39.5},{"i":27,"s":40.9},{"i":28,"s":42.3},{"i":29,"s":43.7},{"i":30,"s":45.9},{"i":31,"s":48.2},{"i":32,"s":50.6},{"i":33,"s":52.8},{"i":34,"s":54.6},{"i":35,"s":56.4},{"i":36,"s":58.2},{"i":37,"s":60},{"i":38,"s":61.6},{"i":39,"s":63},{"i":40,"s":64.4},{"i":41,"s":66.1},{"i":42,"s":68.1},{"i":43,"s":70.2},{"i":44,"s":72.2},{"i":45,"s":74.2},{"i":46,"s":76.1},{"i":47,"s":78},{"i":48,"s":80},{"i":49,"s":81.9},{"i":50,"s":83.8},{"i":51,"s":86},{"i":52,"s":88.1},{"i":53,"s":90.2},{"i":54,"s":92.4},{"i":55,"s":94.8},{"i":56,"s":97.3},{"i":57,"s":99.8},{"i":58,"s":102.3},{"i":59,"s":105.5},{"i":60,"s":108.9},{"i":61,"s":112.3},{"i":62,"s":114.8},{"i":63,"s":117.1},{"i":64,"s":119.5},{"i":65,"s":122.4},{"i":66,"s":126.7},{"i":67,"s":131.3},{"i":68,"s":135.4},{"i":69,"s":139.5},{"i":70,"s":143.3},{"i":71,"s":146.6},{"i":72,"s":150},{"i":73,"s":153.7},{"i":74,"s":157.6},{"i":75,"s":161.5},{"i":76,"s":170.2},{"i":77,"s":176.8},{"i":78,"s":181.3}]
},
"concat":[
{"width":380,"height":1,"data":{"values":[]},"mark":"point","title":{"text":"a","orient":"bottom","anchor":"start","frame":"group","dx":-111,"offset":35.5,"fontSize":36,"baseline":"alphabetic"}},
{"width":376,"height":1,"data":{"values":[]},"mark":"point"},
{"width":377,"height":1,"data":{"values":[]},"mark":"point"},
{"width":380,"height":182,"title":{"text":"Fully complementary","offset":29},"data":{"name":"A1"},
"encoding":{"x":{"field":"t","type":"quantitative","scale":{"domain":[0,200],"nice":false},"axis":{"values":[0,40,80,120,160,200],"offset":8},"title":"Time (s)"}},
"layer":[
{"mark":{"type":"line","color":"#5fc6c0","strokeWidth":1},"encoding":{"y":{"field":"c","type":"quantitative","scale":{"domain":[-0.032,1.12],"nice":false},"axis":{"values":[0,0.5,1,1.12],"offset":13,"labelExpr":"datum.value == 0 ? '0' : (datum.value * 2) % 1 == 0 ? format(datum.value, '.1f') : ''"},"title":"Intensity"}}},
{"mark":{"type":"point","shape":"M-1,-1L1,1M1,-1L-1,1","size":16,"color":"#5fc6c0","filled":false,"strokeWidth":1,"opacity":1},"encoding":{"y":{"field":"c","type":"quantitative","title":"Intensity"}}},
{"mark":{"type":"line","color":"#c58a2e","strokeWidth":1.2},"encoding":{"y":{"field":"o","type":"quantitative","title":"Intensity"}}},
{"mark":{"type":"line","color":"#ec118c","strokeWidth":1.1},"encoding":{"y":{"field":"m","type":"quantitative","title":"Intensity"}}},
{"data":{"name":"SA1"},"mark":{"type":"line","color":"#1a1a1a","strokeWidth":1.2},"encoding":{"y":{"field":"s","type":"quantitative","title":"Intensity"}}}
]},
{"width":376,"height":182,"title":{"text":"Seed-matched","offset":29},"data":{"name":"A2"},
"encoding":{"x":{"field":"t","type":"quantitative","scale":{"domain":[0,200],"nice":false},"axis":{"values":[0,40,80,120,160,200],"offset":8},"title":"Time (s)"}},
"layer":[
{"mark":{"type":"line","color":"#5fc6c0","strokeWidth":1},"encoding":{"y":{"field":"c","type":"quantitative","scale":{"domain":[-0.055,1.95],"nice":false},"axis":{"values":[0,0.5,1,1.5,1.95],"offset":13,"labelExpr":"datum.value == 0 ? '0' : (datum.value * 2) % 1 == 0 ? format(datum.value, '.1f') : ''"},"title":null}}},
{"mark":{"type":"point","shape":"M-1,-1L1,1M1,-1L-1,1","size":16,"color":"#5fc6c0","filled":false,"strokeWidth":1,"opacity":1},"encoding":{"y":{"field":"c","type":"quantitative","title":null}}},
{"mark":{"type":"line","color":"#c58a2e","strokeWidth":1.2},"encoding":{"y":{"field":"o","type":"quantitative","title":null}}},
{"mark":{"type":"line","color":"#ec118c","strokeWidth":1.1},"encoding":{"y":{"field":"m","type":"quantitative","title":null}}},
{"data":{"name":"SA2"},"mark":{"type":"line","color":"#1a1a1a","strokeWidth":1.2},"encoding":{"y":{"field":"s","type":"quantitative","title":null}}}
]},
{"width":377,"height":182,"title":{"text":["Seed-matched","+ 3′ supplemental pairing"],"offset":29},"data":{"name":"A3"},
"encoding":{"x":{"field":"t","type":"quantitative","scale":{"domain":[0,200],"nice":false},"axis":{"values":[0,40,80,120,160,200],"offset":8},"title":"Time (s)"}},
"layer":[
{"mark":{"type":"line","color":"#5fc6c0","strokeWidth":1},"encoding":{"y":{"field":"c","type":"quantitative","scale":{"domain":[-0.03,1.19],"nice":false},"axis":{"values":[0,0.5,1,1.19],"offset":13,"labelExpr":"datum.value == 0 ? '0' : (datum.value * 2) % 1 == 0 ? format(datum.value, '.1f') : ''"},"title":null}}},
{"mark":{"type":"point","shape":"M-1,-1L1,1M1,-1L-1,1","size":16,"color":"#5fc6c0","filled":false,"strokeWidth":1,"opacity":1},"encoding":{"y":{"field":"c","type":"quantitative","title":null}}},
{"mark":{"type":"line","color":"#c58a2e","strokeWidth":1.2},"encoding":{"y":{"field":"o","type":"quantitative","title":null}}},
{"mark":{"type":"line","color":"#ec118c","strokeWidth":1.1},"encoding":{"y":{"field":"m","type":"quantitative","title":null}}},
{"data":{"name":"SA3"},"mark":{"type":"line","color":"#1a1a1a","strokeWidth":1.2},"encoding":{"y":{"field":"s","type":"quantitative","title":null}}}
]},
{"width":380,"height":297,"view":{"stroke":"#333","strokeWidth":1},"data":{"name":"RA1"},
"mark":{"type":"bar","orient":"horizontal","height":2.1,"color":{"gradient":"linear","stops":[{"offset":0,"color":"#2e3f9f"},{"offset":0.12,"color":"#3b4ca8"},{"offset":0.3,"color":"#7580c6"},{"offset":0.6,"color":"#a9b0dc"},{"offset":1,"color":"#ccd1ec"}]}},
"encoding":{"x":{"field":"s","type":"quantitative","scale":{"domain":[0,194.5],"nice":false},"axis":{"values":[0,40,80,120,160],"domain":false},"title":"Time (s)"},"x2":{"field":"e"},
"y":{"field":"i","type":"quantitative","scale":{"domain":[-0.5,99.5],"nice":false},"axis":{"labels":false,"ticks":false,"domain":false,"titlePadding":34},"title":"Individual molecules"},
"opacity":{"field":"i","type":"ordinal","scale":{"type":"ordinal","range":[1,0.7,0.9,0.6,0.85,1,0.65,0.8,0.95,0.55,0.9,0.75]},"legend":null}}},
{"width":376,"height":297,"view":{"stroke":"#333","strokeWidth":1},"data":{"name":"RA2"},
"mark":{"type":"bar","orient":"horizontal","height":2.1,"color":{"gradient":"linear","stops":[{"offset":0,"color":"#2e3f9f"},{"offset":0.12,"color":"#3b4ca8"},{"offset":0.3,"color":"#7580c6"},{"offset":0.6,"color":"#a9b0dc"},{"offset":1,"color":"#ccd1ec"}]}},
"encoding":{"x":{"field":"s","type":"quantitative","scale":{"domain":[0,194.5],"nice":false},"axis":{"values":[0,40,80,120,160],"domain":false},"title":"Time (s)"},"x2":{"field":"e"},
"y":{"field":"i","type":"quantitative","scale":{"domain":[-0.5,99.5],"nice":false},"axis":null},
"opacity":{"field":"i","type":"ordinal","scale":{"type":"ordinal","range":[1,0.7,0.9,0.6,0.85,1,0.65,0.8,0.95,0.55,0.9,0.75]},"legend":null}}},
{"width":377,"height":297,"view":{"stroke":"#333","strokeWidth":1},"data":{"name":"RA3"},
"mark":{"type":"bar","orient":"horizontal","height":2.1,"color":{"gradient":"linear","stops":[{"offset":0,"color":"#2e3f9f"},{"offset":0.12,"color":"#3b4ca8"},{"offset":0.3,"color":"#7580c6"},{"offset":0.6,"color":"#a9b0dc"},{"offset":1,"color":"#ccd1ec"}]}},
"encoding":{"x":{"field":"s","type":"quantitative","scale":{"domain":[0,194.5],"nice":false},"axis":{"values":[0,40,80,120,160],"domain":false},"title":"Time (s)"},"x2":{"field":"e"},
"y":{"field":"i","type":"quantitative","scale":{"domain":[-0.5,99.5],"nice":false},"axis":null},
"opacity":{"field":"i","type":"ordinal","scale":{"type":"ordinal","range":[1,0.7,0.9,0.6,0.85,1,0.65,0.8,0.95,0.55,0.9,0.75]},"legend":null}}},
{"width":380,"height":1,"data":{"values":[]},"mark":"point","title":{"text":"b","orient":"bottom","anchor":"start","frame":"group","dx":-111,"offset":24.2,"fontSize":36,"baseline":"alphabetic"}},
{"width":376,"height":1,"data":{"values":[]},"mark":"point"},
{"width":377,"height":1,"data":{"values":[]},"mark":"point"},
{"width":380,"height":180,"title":{"text":"Fully complementary","offset":42},"data":{"name":"B1"},
"encoding":{"x":{"field":"t","type":"quantitative","scale":{"domain":[0,200],"nice":false},"axis":{"values":[0,40,80,120,160,200],"offset":9},"title":"Time (s)"}},
"layer":[
{"mark":{"type":"line","color":"#5fc6c0","strokeWidth":1},"encoding":{"y":{"field":"c","type":"quantitative","scale":{"domain":[-0.005,1.4],"nice":false},"axis":{"values":[0,0.5,1,1.4],"offset":13,"labelExpr":"datum.value == 0 ? '0' : (datum.value * 2) % 1 == 0 ? format(datum.value, '.1f') : ''"},"title":"Intensity"}}},
{"mark":{"type":"point","shape":"M-1,-1L1,1M1,-1L-1,1","size":16,"color":"#5fc6c0","filled":false,"strokeWidth":1,"opacity":1},"encoding":{"y":{"field":"c","type":"quantitative","title":"Intensity"}}},
{"mark":{"type":"line","color":"#c58a2e","strokeWidth":1.2},"encoding":{"y":{"field":"o","type":"quantitative","title":"Intensity"}}},
{"mark":{"type":"line","color":"#ec118c","strokeWidth":1.1},"encoding":{"y":{"field":"m","type":"quantitative","title":"Intensity"}}},
{"data":{"name":"SB1"},"mark":{"type":"line","color":"#1a1a1a","strokeWidth":1.2},"encoding":{"y":{"field":"s","type":"quantitative","title":"Intensity"}}}
]},
{"width":376,"height":180,"title":{"text":"Seed-matched","offset":42},"data":{"name":"B2"},
"encoding":{"x":{"field":"t","type":"quantitative","scale":{"domain":[0,200],"nice":false},"axis":{"values":[0,40,80,120,160,200],"offset":9},"title":"Time (s)"}},
"layer":[
{"mark":{"type":"line","color":"#5fc6c0","strokeWidth":1},"encoding":{"y":{"field":"c","type":"quantitative","scale":{"domain":[-0.005,1.56],"nice":false},"axis":{"values":[0,0.5,1,1.5,1.56],"offset":13,"labelExpr":"datum.value == 0 ? '0' : (datum.value * 2) % 1 == 0 ? format(datum.value, '.1f') : ''"},"title":null}}},
{"mark":{"type":"point","shape":"M-1,-1L1,1M1,-1L-1,1","size":16,"color":"#5fc6c0","filled":false,"strokeWidth":1,"opacity":1},"encoding":{"y":{"field":"c","type":"quantitative","title":null}}},
{"mark":{"type":"line","color":"#c58a2e","strokeWidth":1.2},"encoding":{"y":{"field":"o","type":"quantitative","title":null}}},
{"mark":{"type":"line","color":"#ec118c","strokeWidth":1.1},"encoding":{"y":{"field":"m","type":"quantitative","title":null}}},
{"data":{"name":"SB2"},"mark":{"type":"line","color":"#1a1a1a","strokeWidth":1.2},"encoding":{"y":{"field":"s","type":"quantitative","title":null}}}
]},
{"width":377,"height":180,"title":{"text":["Seed-matched","+ 3′ supplemental pairing"],"offset":42},"data":{"name":"B3"},
"encoding":{"x":{"field":"t","type":"quantitative","scale":{"domain":[0,200],"nice":false},"axis":{"values":[0,40,80,120,160,200],"offset":9},"title":"Time (s)"}},
"layer":[
{"mark":{"type":"line","color":"#5fc6c0","strokeWidth":1},"encoding":{"y":{"field":"c","type":"quantitative","scale":{"domain":[-0.005,2.2],"nice":false},"axis":{"values":[0,1,2,2.2],"offset":13,"labelExpr":"datum.value == 0 ? '0' : (datum.value * 2) % 1 == 0 ? format(datum.value, '.1f') : ''"},"title":null}}},
{"mark":{"type":"point","shape":"M-1,-1L1,1M1,-1L-1,1","size":16,"color":"#5fc6c0","filled":false,"strokeWidth":1,"opacity":1},"encoding":{"y":{"field":"c","type":"quantitative","title":null}}},
{"mark":{"type":"line","color":"#c58a2e","strokeWidth":1.2},"encoding":{"y":{"field":"o","type":"quantitative","title":null}}},
{"mark":{"type":"line","color":"#ec118c","strokeWidth":1.1},"encoding":{"y":{"field":"m","type":"quantitative","title":null}}},
{"data":{"name":"SB3"},"mark":{"type":"line","color":"#1a1a1a","strokeWidth":1.2},"encoding":{"y":{"field":"s","type":"quantitative","title":null}}}
]},
{"width":380,"height":294,"view":{"stroke":"#333","strokeWidth":1},"data":{"name":"RB1"},
"mark":{"type":"bar","orient":"horizontal","height":2.1,"color":{"gradient":"linear","stops":[{"offset":0,"color":"#2e3f9f"},{"offset":0.12,"color":"#3b4ca8"},{"offset":0.3,"color":"#7580c6"},{"offset":0.6,"color":"#a9b0dc"},{"offset":1,"color":"#ccd1ec"}]}},
"encoding":{"x":{"field":"s","type":"quantitative","scale":{"domain":[0,184],"nice":false},"axis":{"values":[0,40,80,120,160],"domain":false},"title":"Time (s)"},"x2":{"field":"e"},
"y":{"field":"i","type":"quantitative","scale":{"domain":[-0.5,99.5],"nice":false},"axis":{"labels":false,"ticks":false,"domain":false,"titlePadding":34},"title":"Individual molecules"},
"opacity":{"field":"i","type":"ordinal","scale":{"type":"ordinal","range":[1,0.7,0.9,0.6,0.85,1,0.65,0.8,0.95,0.55,0.9,0.75]},"legend":null}}},
{"width":376,"height":294,"view":{"stroke":"#333","strokeWidth":1},"data":{"name":"RB2"},
"encoding":{"x":{"field":"s","type":"quantitative","scale":{"domain":[0,184],"nice":false},"axis":{"values":[0,40,80,120,160],"domain":false},"title":"Time (s)"},
"y":{"field":"i","type":"quantitative","scale":{"domain":[-0.5,99.5],"nice":false},"axis":null}},
"layer":[
{"mark":{"type":"rule","color":"#6572bf","strokeWidth":1.2,"opacity":0.6},"encoding":{"x2":{"datum":184},"strokeDash":{"field":"i","type":"nominal","scale":{"type":"ordinal","range":[[2,9],[3,13,1,7],[1,6,2,15],[4,11],[2,17,2,5],[1,8,3,10],[2,12],[3,7,1,14],[1,10,2,4],[2,15,3,6],[1,5,1,12]]},"legend":null}}},
{"mark":{"type":"line","color":"#3a4aa6","strokeWidth":1.2}}
]},
{"width":377,"height":294,"view":{"stroke":"#333","strokeWidth":1},"data":{"name":"RB3"},
"encoding":{"x":{"field":"s","type":"quantitative","scale":{"domain":[0,184],"nice":false},"axis":{"values":[0,40,80,120,160],"domain":false},"title":"Time (s)"},
"y":{"field":"i","type":"quantitative","scale":{"domain":[-0.5,99.5],"nice":false},"axis":null}},
"layer":[
{"mark":{"type":"rule","color":"#6572bf","strokeWidth":1.2,"opacity":0.6},"encoding":{"x2":{"datum":184},"strokeDash":{"field":"i","type":"nominal","scale":{"type":"ordinal","range":[[2,9],[3,13,1,7],[1,6,2,15],[4,11],[2,17,2,5],[1,8,3,10],[2,12],[3,7,1,14],[1,10,2,4],[2,15,3,6],[1,5,1,12]]},"legend":null}}},
{"mark":{"type":"line","color":"#3a4aa6","strokeWidth":1.2}}
]}
]
}
